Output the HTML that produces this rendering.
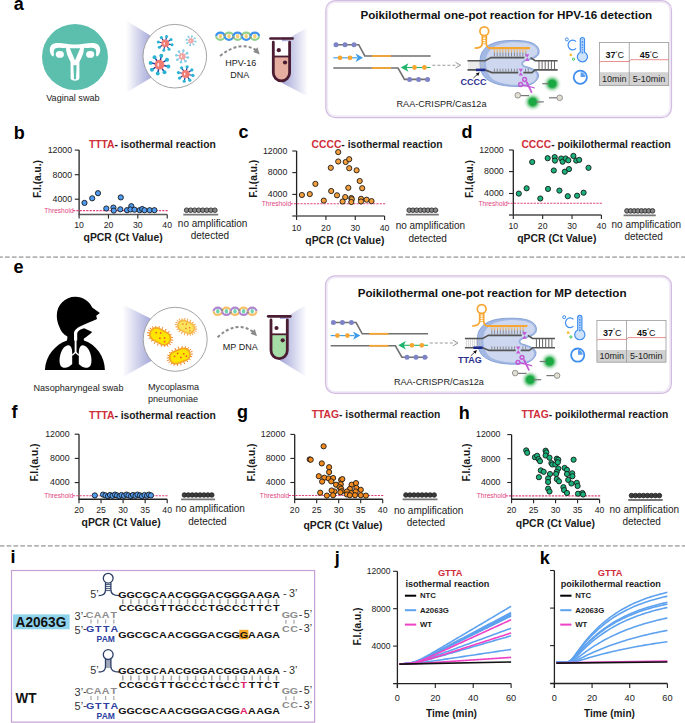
<!DOCTYPE html><html><head><meta charset="utf-8"><style>html,body{margin:0;padding:0;background:#fff;font-family:"Liberation Sans",sans-serif;}svg{display:block;}</style></head><body>
<svg width="685" height="723" viewBox="0 0 685 723" font-family="'Liberation Sans', sans-serif">
<defs>
<linearGradient id="coneL" x1="0" y1="0" x2="1" y2="0"><stop offset="0" stop-color="#ffffff"/><stop offset="1" stop-color="#a3a6d8"/></linearGradient>
<linearGradient id="coneR" x1="0" y1="0" x2="1" y2="0"><stop offset="0" stop-color="#a3a6d8"/><stop offset="1" stop-color="#ffffff"/></linearGradient>
<radialGradient id="glow"><stop offset="0" stop-color="#1aa843"/><stop offset="0.36" stop-color="#1aa843"/><stop offset="0.48" stop-color="#45b862" stop-opacity="0.8"/><stop offset="0.72" stop-color="#9bd8aa" stop-opacity="0.35"/><stop offset="1" stop-color="#ffffff" stop-opacity="0"/></radialGradient>
</defs>
<line x1="0" y1="257.1" x2="685" y2="257.1" stroke="#b4b4b4" stroke-width="1.6" stroke-dasharray="4.7 2.2" stroke-dashoffset="1.9"/>
<line x1="0" y1="545.9" x2="685" y2="545.9" stroke="#b4b4b4" stroke-width="1.6" stroke-dasharray="4.7 2.19" stroke-dashoffset="0.3"/>
<text x="13.80" y="9.60" font-size="18" font-weight="bold" fill="#000" text-anchor="start" >a</text>
<text x="13.80" y="138.60" font-size="18" font-weight="bold" fill="#000" text-anchor="start" >b</text>
<text x="238.50" y="138.30" font-size="18" font-weight="bold" fill="#000" text-anchor="start" >c</text>
<text x="461.60" y="138.30" font-size="18" font-weight="bold" fill="#000" text-anchor="start" >d</text>
<text x="13.60" y="273.30" font-size="18" font-weight="bold" fill="#000" text-anchor="start" >e</text>
<text x="11.50" y="418.40" font-size="18" font-weight="bold" fill="#000" text-anchor="start" >f</text>
<text x="237.00" y="418.00" font-size="18" font-weight="bold" fill="#000" text-anchor="start" >g</text>
<text x="458.80" y="418.60" font-size="18" font-weight="bold" fill="#000" text-anchor="start" >h</text>
<text x="10.40" y="563.10" font-size="18" font-weight="bold" fill="#000" text-anchor="start" >i</text>
<text x="334.80" y="564.10" font-size="18" font-weight="bold" fill="#000" text-anchor="start" >j</text>
<text x="539.80" y="563.90" font-size="18" font-weight="bold" fill="#000" text-anchor="start" >k</text>
<line x1="79.1" y1="150.1" x2="79.1" y2="214.6" stroke="#222" stroke-width="1.3"/>
<line x1="78.44999999999999" y1="214.6" x2="167.2" y2="214.6" stroke="#5a5a5a" stroke-width="1.5"/>
<line x1="74.8" y1="150.1" x2="79.1" y2="150.1" stroke="#222" stroke-width="1.1"/>
<text x="72.10" y="152.90" font-size="8.8" fill="#222" text-anchor="end" >12000</text>
<line x1="74.8" y1="174.7" x2="79.1" y2="174.7" stroke="#222" stroke-width="1.1"/>
<text x="72.10" y="177.50" font-size="8.8" fill="#222" text-anchor="end" >8000</text>
<line x1="74.8" y1="199.2" x2="79.1" y2="199.2" stroke="#222" stroke-width="1.1"/>
<text x="72.10" y="202.00" font-size="8.8" fill="#222" text-anchor="end" >4000</text>
<line x1="79.1" y1="214.6" x2="79.1" y2="218.6" stroke="#222" stroke-width="1.1"/>
<text x="79.10" y="227.80" font-size="8.7" fill="#222" text-anchor="middle" >10</text>
<line x1="108.46666666666665" y1="214.6" x2="108.46666666666665" y2="218.6" stroke="#222" stroke-width="1.1"/>
<text x="108.47" y="227.80" font-size="8.7" fill="#222" text-anchor="middle" >20</text>
<line x1="137.83333333333331" y1="214.6" x2="137.83333333333331" y2="218.6" stroke="#222" stroke-width="1.1"/>
<text x="137.83" y="227.80" font-size="8.7" fill="#222" text-anchor="middle" >30</text>
<line x1="167.2" y1="214.6" x2="167.2" y2="218.6" stroke="#222" stroke-width="1.1"/>
<text x="167.20" y="227.80" font-size="8.7" fill="#222" text-anchor="middle" >40</text>
<line x1="73.1" y1="210.6" x2="168.2" y2="210.6" stroke="#e0457f" stroke-width="1.1" stroke-dasharray="2.2 1.1"/>
<text x="73.60" y="212.90" font-size="6.6" fill="#e0457f" text-anchor="end" >Threshold</text>
<circle cx="84.5" cy="202.9" r="2.6" fill="#4f9cf2" stroke="#1a1a1a" stroke-width="0.9"/>
<circle cx="92.2" cy="198.3" r="2.6" fill="#4f9cf2" stroke="#1a1a1a" stroke-width="0.9"/>
<circle cx="98" cy="193.2" r="2.6" fill="#4f9cf2" stroke="#1a1a1a" stroke-width="0.9"/>
<circle cx="120.8" cy="197.4" r="2.6" fill="#4f9cf2" stroke="#1a1a1a" stroke-width="0.9"/>
<circle cx="106.3" cy="208.5" r="2.6" fill="#4f9cf2" stroke="#1a1a1a" stroke-width="0.9"/>
<circle cx="113.4" cy="207.6" r="2.6" fill="#4f9cf2" stroke="#1a1a1a" stroke-width="0.9"/>
<circle cx="113.8" cy="210.6" r="2.6" fill="#4f9cf2" stroke="#1a1a1a" stroke-width="0.9"/>
<circle cx="120.3" cy="209.3" r="2.6" fill="#4f9cf2" stroke="#1a1a1a" stroke-width="0.9"/>
<circle cx="127" cy="210.2" r="2.6" fill="#4f9cf2" stroke="#1a1a1a" stroke-width="0.9"/>
<circle cx="131.3" cy="206.2" r="2.6" fill="#4f9cf2" stroke="#1a1a1a" stroke-width="0.9"/>
<circle cx="130.5" cy="209.5" r="2.6" fill="#4f9cf2" stroke="#1a1a1a" stroke-width="0.9"/>
<circle cx="134.5" cy="209.7" r="2.6" fill="#4f9cf2" stroke="#1a1a1a" stroke-width="0.9"/>
<circle cx="139.7" cy="210.2" r="2.6" fill="#4f9cf2" stroke="#1a1a1a" stroke-width="0.9"/>
<circle cx="142.2" cy="209" r="2.6" fill="#4f9cf2" stroke="#1a1a1a" stroke-width="0.9"/>
<circle cx="144.5" cy="210.2" r="2.6" fill="#4f9cf2" stroke="#1a1a1a" stroke-width="0.9"/>
<circle cx="149.7" cy="210.2" r="2.6" fill="#4f9cf2" stroke="#1a1a1a" stroke-width="0.9"/>
<circle cx="154.4" cy="210.2" r="2.6" fill="#4f9cf2" stroke="#1a1a1a" stroke-width="0.9"/>
<text x="88.9" y="147.7" font-size="10.3" font-weight="bold" fill="#1a1a1a"><tspan fill="#cf2e3a">TTTA</tspan>- isothermal reaction</text>
<text transform="translate(40.5,179) rotate(-90)" font-size="10.2" font-weight="bold" text-anchor="middle" fill="#1a1a1a">F.I.(a.u.)</text>
<text x="123.10" y="241.10" font-size="10.4" font-weight="bold" fill="#1a1a1a" text-anchor="middle" >qPCR (Ct Value)</text>
<circle cx="186.60" cy="210.2" r="2.3" fill="#888" stroke="#222" stroke-width="0.8"/>
<circle cx="190.64" cy="210.2" r="2.3" fill="#888" stroke="#222" stroke-width="0.8"/>
<circle cx="194.69" cy="210.2" r="2.3" fill="#888" stroke="#222" stroke-width="0.8"/>
<circle cx="198.73" cy="210.2" r="2.3" fill="#888" stroke="#222" stroke-width="0.8"/>
<circle cx="202.77" cy="210.2" r="2.3" fill="#888" stroke="#222" stroke-width="0.8"/>
<circle cx="206.81" cy="210.2" r="2.3" fill="#888" stroke="#222" stroke-width="0.8"/>
<circle cx="210.86" cy="210.2" r="2.3" fill="#888" stroke="#222" stroke-width="0.8"/>
<circle cx="214.90" cy="210.2" r="2.3" fill="#888" stroke="#222" stroke-width="0.8"/>
<line x1="183.3" y1="214.6" x2="218.2" y2="214.6" stroke="#777" stroke-width="1.8"/>
<text x="212.60" y="227.00" font-size="10" fill="#222" text-anchor="middle" >no amplification</text>
<text x="209.90" y="239.20" font-size="10" fill="#222" text-anchor="middle" >detected</text>
<line x1="296.6" y1="151" x2="296.6" y2="216" stroke="#222" stroke-width="1.3"/>
<line x1="292.3" y1="216" x2="384.6" y2="216" stroke="#5a5a5a" stroke-width="1.5"/>
<line x1="292.3" y1="151" x2="296.6" y2="151" stroke="#222" stroke-width="1.1"/>
<text x="287.40" y="153.80" font-size="8.8" fill="#222" text-anchor="end" >12000</text>
<line x1="292.3" y1="172.6" x2="296.6" y2="172.6" stroke="#222" stroke-width="1.1"/>
<text x="287.40" y="175.40" font-size="8.8" fill="#222" text-anchor="end" >8000</text>
<line x1="292.3" y1="194.4" x2="296.6" y2="194.4" stroke="#222" stroke-width="1.1"/>
<text x="287.40" y="197.20" font-size="8.8" fill="#222" text-anchor="end" >4000</text>
<line x1="296.6" y1="216" x2="296.6" y2="220" stroke="#222" stroke-width="1.1"/>
<text x="296.60" y="230.60" font-size="8.7" fill="#222" text-anchor="middle" >10</text>
<line x1="325.93333333333334" y1="216" x2="325.93333333333334" y2="220" stroke="#222" stroke-width="1.1"/>
<text x="325.93" y="230.60" font-size="8.7" fill="#222" text-anchor="middle" >20</text>
<line x1="355.2666666666667" y1="216" x2="355.2666666666667" y2="220" stroke="#222" stroke-width="1.1"/>
<text x="355.27" y="230.60" font-size="8.7" fill="#222" text-anchor="middle" >30</text>
<line x1="384.6" y1="216" x2="384.6" y2="220" stroke="#222" stroke-width="1.1"/>
<text x="384.60" y="230.60" font-size="8.7" fill="#222" text-anchor="middle" >40</text>
<line x1="290.6" y1="203.8" x2="385.6" y2="203.8" stroke="#e0457f" stroke-width="1.1" stroke-dasharray="2.2 1.1"/>
<text x="291.10" y="206.10" font-size="6.6" fill="#e0457f" text-anchor="end" >Threshold</text>
<circle cx="338.2" cy="152.1" r="2.6" fill="#f5a03c" stroke="#1a1a1a" stroke-width="0.9"/>
<circle cx="338.2" cy="161.5" r="2.6" fill="#f5a03c" stroke="#1a1a1a" stroke-width="0.9"/>
<circle cx="345.7" cy="162" r="2.6" fill="#f5a03c" stroke="#1a1a1a" stroke-width="0.9"/>
<circle cx="349.2" cy="159.2" r="2.6" fill="#f5a03c" stroke="#1a1a1a" stroke-width="0.9"/>
<circle cx="330.8" cy="167.8" r="2.6" fill="#f5a03c" stroke="#1a1a1a" stroke-width="0.9"/>
<circle cx="349.2" cy="168.2" r="2.6" fill="#f5a03c" stroke="#1a1a1a" stroke-width="0.9"/>
<circle cx="356.6" cy="170.3" r="2.6" fill="#f5a03c" stroke="#1a1a1a" stroke-width="0.9"/>
<circle cx="359.7" cy="181" r="2.6" fill="#f5a03c" stroke="#1a1a1a" stroke-width="0.9"/>
<circle cx="315.4" cy="183.9" r="2.6" fill="#f5a03c" stroke="#1a1a1a" stroke-width="0.9"/>
<circle cx="348.3" cy="187.8" r="2.6" fill="#f5a03c" stroke="#1a1a1a" stroke-width="0.9"/>
<circle cx="362.2" cy="188.2" r="2.6" fill="#f5a03c" stroke="#1a1a1a" stroke-width="0.9"/>
<circle cx="301.9" cy="195" r="2.6" fill="#f5a03c" stroke="#1a1a1a" stroke-width="0.9"/>
<circle cx="309.8" cy="194.1" r="2.6" fill="#f5a03c" stroke="#1a1a1a" stroke-width="0.9"/>
<circle cx="331.2" cy="191" r="2.6" fill="#f5a03c" stroke="#1a1a1a" stroke-width="0.9"/>
<circle cx="337" cy="195.3" r="2.6" fill="#f5a03c" stroke="#1a1a1a" stroke-width="0.9"/>
<circle cx="345.2" cy="197.1" r="2.6" fill="#f5a03c" stroke="#1a1a1a" stroke-width="0.9"/>
<circle cx="351.3" cy="198" r="2.6" fill="#f5a03c" stroke="#1a1a1a" stroke-width="0.9"/>
<circle cx="351.8" cy="199.2" r="2.6" fill="#f5a03c" stroke="#1a1a1a" stroke-width="0.9"/>
<circle cx="361" cy="198.8" r="2.6" fill="#f5a03c" stroke="#1a1a1a" stroke-width="0.9"/>
<circle cx="366.6" cy="199.7" r="2.6" fill="#f5a03c" stroke="#1a1a1a" stroke-width="0.9"/>
<circle cx="371.5" cy="201.1" r="2.6" fill="#f5a03c" stroke="#1a1a1a" stroke-width="0.9"/>
<circle cx="323.8" cy="200.6" r="2.6" fill="#f5a03c" stroke="#1a1a1a" stroke-width="0.9"/>
<circle cx="342.6" cy="201.5" r="2.6" fill="#f5a03c" stroke="#1a1a1a" stroke-width="0.9"/>
<circle cx="351.3" cy="202" r="2.6" fill="#f5a03c" stroke="#1a1a1a" stroke-width="0.9"/>
<circle cx="361" cy="201.5" r="2.6" fill="#f5a03c" stroke="#1a1a1a" stroke-width="0.9"/>
<text x="311.6" y="147.7" font-size="10.3" font-weight="bold" fill="#1a1a1a"><tspan fill="#cf2e3a">CCCC</tspan>- isothermal reaction</text>
<text transform="translate(256.6,178.8) rotate(-90)" font-size="10.2" font-weight="bold" text-anchor="middle" fill="#1a1a1a">F.I.(a.u.)</text>
<text x="344.90" y="243.50" font-size="10.4" font-weight="bold" fill="#1a1a1a" text-anchor="middle" >qPCR (Ct Value)</text>
<circle cx="409.20" cy="210.2" r="2.3" fill="#888" stroke="#222" stroke-width="0.8"/>
<circle cx="412.96" cy="210.2" r="2.3" fill="#888" stroke="#222" stroke-width="0.8"/>
<circle cx="416.71" cy="210.2" r="2.3" fill="#888" stroke="#222" stroke-width="0.8"/>
<circle cx="420.47" cy="210.2" r="2.3" fill="#888" stroke="#222" stroke-width="0.8"/>
<circle cx="424.23" cy="210.2" r="2.3" fill="#888" stroke="#222" stroke-width="0.8"/>
<circle cx="427.99" cy="210.2" r="2.3" fill="#888" stroke="#222" stroke-width="0.8"/>
<circle cx="431.74" cy="210.2" r="2.3" fill="#888" stroke="#222" stroke-width="0.8"/>
<circle cx="435.50" cy="210.2" r="2.3" fill="#888" stroke="#222" stroke-width="0.8"/>
<line x1="405.9" y1="214.6" x2="438.8" y2="214.6" stroke="#777" stroke-width="1.8"/>
<text x="430.40" y="229.30" font-size="10" fill="#222" text-anchor="middle" >no amplification</text>
<text x="427.70" y="241.50" font-size="10" fill="#222" text-anchor="middle" >detected</text>
<line x1="513.3" y1="150" x2="513.3" y2="215.1" stroke="#222" stroke-width="1.3"/>
<line x1="508.99999999999994" y1="215.1" x2="601.4" y2="215.1" stroke="#4a4a4a" stroke-width="1.5"/>
<line x1="508.99999999999994" y1="150" x2="513.3" y2="150" stroke="#222" stroke-width="1.1"/>
<text x="503.70" y="152.80" font-size="8.8" fill="#222" text-anchor="end" >12000</text>
<line x1="508.99999999999994" y1="171.6" x2="513.3" y2="171.6" stroke="#222" stroke-width="1.1"/>
<text x="503.70" y="174.40" font-size="8.8" fill="#222" text-anchor="end" >8000</text>
<line x1="508.99999999999994" y1="193.5" x2="513.3" y2="193.5" stroke="#222" stroke-width="1.1"/>
<text x="503.70" y="196.30" font-size="8.8" fill="#222" text-anchor="end" >4000</text>
<line x1="513.3" y1="215.1" x2="513.3" y2="219.1" stroke="#222" stroke-width="1.1"/>
<text x="513.30" y="228.90" font-size="8.7" fill="#222" text-anchor="middle" >10</text>
<line x1="542.6666666666666" y1="215.1" x2="542.6666666666666" y2="219.1" stroke="#222" stroke-width="1.1"/>
<text x="542.67" y="228.90" font-size="8.7" fill="#222" text-anchor="middle" >20</text>
<line x1="572.0333333333333" y1="215.1" x2="572.0333333333333" y2="219.1" stroke="#222" stroke-width="1.1"/>
<text x="572.03" y="228.90" font-size="8.7" fill="#222" text-anchor="middle" >30</text>
<line x1="601.4" y1="215.1" x2="601.4" y2="219.1" stroke="#222" stroke-width="1.1"/>
<text x="601.40" y="228.90" font-size="8.7" fill="#222" text-anchor="middle" >40</text>
<line x1="507.29999999999995" y1="203.2" x2="602.4" y2="203.2" stroke="#e0457f" stroke-width="1.1" stroke-dasharray="2.2 1.1"/>
<text x="507.80" y="205.50" font-size="6.6" fill="#e0457f" text-anchor="end" >Threshold</text>
<circle cx="518.8" cy="193.6" r="2.6" fill="#19b27a" stroke="#1a1a1a" stroke-width="0.9"/>
<circle cx="526.6" cy="188.3" r="2.6" fill="#19b27a" stroke="#1a1a1a" stroke-width="0.9"/>
<circle cx="532.2" cy="162" r="2.6" fill="#19b27a" stroke="#1a1a1a" stroke-width="0.9"/>
<circle cx="540.3" cy="198.5" r="2.6" fill="#19b27a" stroke="#1a1a1a" stroke-width="0.9"/>
<circle cx="547.7" cy="158.2" r="2.6" fill="#19b27a" stroke="#1a1a1a" stroke-width="0.9"/>
<circle cx="548" cy="188.9" r="2.6" fill="#19b27a" stroke="#1a1a1a" stroke-width="0.9"/>
<circle cx="554.7" cy="157.1" r="2.6" fill="#19b27a" stroke="#1a1a1a" stroke-width="0.9"/>
<circle cx="555" cy="160.6" r="2.6" fill="#19b27a" stroke="#1a1a1a" stroke-width="0.9"/>
<circle cx="553.8" cy="170.5" r="2.6" fill="#19b27a" stroke="#1a1a1a" stroke-width="0.9"/>
<circle cx="559.4" cy="190.6" r="2.6" fill="#19b27a" stroke="#1a1a1a" stroke-width="0.9"/>
<circle cx="561.2" cy="158.5" r="2.6" fill="#19b27a" stroke="#1a1a1a" stroke-width="0.9"/>
<circle cx="562.6" cy="161.7" r="2.6" fill="#19b27a" stroke="#1a1a1a" stroke-width="0.9"/>
<circle cx="565.7" cy="158.5" r="2.6" fill="#19b27a" stroke="#1a1a1a" stroke-width="0.9"/>
<circle cx="564.8" cy="171.7" r="2.6" fill="#19b27a" stroke="#1a1a1a" stroke-width="0.9"/>
<circle cx="568.3" cy="160.3" r="2.6" fill="#19b27a" stroke="#1a1a1a" stroke-width="0.9"/>
<circle cx="569" cy="169.1" r="2.6" fill="#19b27a" stroke="#1a1a1a" stroke-width="0.9"/>
<circle cx="567.8" cy="196.2" r="2.6" fill="#19b27a" stroke="#1a1a1a" stroke-width="0.9"/>
<circle cx="573.4" cy="155.9" r="2.6" fill="#19b27a" stroke="#1a1a1a" stroke-width="0.9"/>
<circle cx="576.2" cy="160.6" r="2.6" fill="#19b27a" stroke="#1a1a1a" stroke-width="0.9"/>
<circle cx="579.2" cy="159.9" r="2.6" fill="#19b27a" stroke="#1a1a1a" stroke-width="0.9"/>
<circle cx="577.1" cy="195.7" r="2.6" fill="#19b27a" stroke="#1a1a1a" stroke-width="0.9"/>
<circle cx="583.6" cy="192.7" r="2.6" fill="#19b27a" stroke="#1a1a1a" stroke-width="0.9"/>
<circle cx="588.5" cy="167.8" r="2.6" fill="#19b27a" stroke="#1a1a1a" stroke-width="0.9"/>
<text x="521.4" y="147.7" font-size="10.3" font-weight="bold" fill="#1a1a1a"><tspan fill="#cf2e3a">CCCC</tspan>- poikilothermal reaction</text>
<text transform="translate(473,179) rotate(-90)" font-size="10.2" font-weight="bold" text-anchor="middle" fill="#1a1a1a">F.I.(a.u.)</text>
<text x="556.80" y="242.10" font-size="10.4" font-weight="bold" fill="#1a1a1a" text-anchor="middle" >qPCR (Ct Value)</text>
<circle cx="626.90" cy="210.9" r="2.3" fill="#888" stroke="#222" stroke-width="0.8"/>
<circle cx="630.56" cy="210.9" r="2.3" fill="#888" stroke="#222" stroke-width="0.8"/>
<circle cx="634.21" cy="210.9" r="2.3" fill="#888" stroke="#222" stroke-width="0.8"/>
<circle cx="637.87" cy="210.9" r="2.3" fill="#888" stroke="#222" stroke-width="0.8"/>
<circle cx="641.53" cy="210.9" r="2.3" fill="#888" stroke="#222" stroke-width="0.8"/>
<circle cx="645.19" cy="210.9" r="2.3" fill="#888" stroke="#222" stroke-width="0.8"/>
<circle cx="648.84" cy="210.9" r="2.3" fill="#888" stroke="#222" stroke-width="0.8"/>
<circle cx="652.50" cy="210.9" r="2.3" fill="#888" stroke="#222" stroke-width="0.8"/>
<line x1="623.6" y1="215.3" x2="655.8" y2="215.3" stroke="#777" stroke-width="1.8"/>
<text x="646.30" y="227.60" font-size="10" fill="#222" text-anchor="middle" >no amplification</text>
<text x="643.60" y="239.80" font-size="10" fill="#222" text-anchor="middle" >detected</text>
<line x1="79" y1="434.2" x2="79" y2="499.2" stroke="#222" stroke-width="1.3"/>
<line x1="78.35" y1="499.2" x2="167.2" y2="499.2" stroke="#222" stroke-width="1.5"/>
<line x1="74.7" y1="434.2" x2="79" y2="434.2" stroke="#222" stroke-width="1.1"/>
<text x="69.60" y="437.00" font-size="8.8" fill="#222" text-anchor="end" >12000</text>
<line x1="74.7" y1="458.4" x2="79" y2="458.4" stroke="#222" stroke-width="1.1"/>
<text x="69.60" y="461.20" font-size="8.8" fill="#222" text-anchor="end" >8000</text>
<line x1="74.7" y1="482.6" x2="79" y2="482.6" stroke="#222" stroke-width="1.1"/>
<text x="69.60" y="485.40" font-size="8.8" fill="#222" text-anchor="end" >4000</text>
<line x1="79.0" y1="499.2" x2="79.0" y2="503.2" stroke="#222" stroke-width="1.1"/>
<text x="79.00" y="513.00" font-size="8.7" fill="#222" text-anchor="middle" >20</text>
<line x1="101.05" y1="499.2" x2="101.05" y2="503.2" stroke="#222" stroke-width="1.1"/>
<text x="101.05" y="513.00" font-size="8.7" fill="#222" text-anchor="middle" >25</text>
<line x1="123.1" y1="499.2" x2="123.1" y2="503.2" stroke="#222" stroke-width="1.1"/>
<text x="123.10" y="513.00" font-size="8.7" fill="#222" text-anchor="middle" >30</text>
<line x1="145.14999999999998" y1="499.2" x2="145.14999999999998" y2="503.2" stroke="#222" stroke-width="1.1"/>
<text x="145.15" y="513.00" font-size="8.7" fill="#222" text-anchor="middle" >35</text>
<line x1="167.2" y1="499.2" x2="167.2" y2="503.2" stroke="#222" stroke-width="1.1"/>
<text x="167.20" y="513.00" font-size="8.7" fill="#222" text-anchor="middle" >40</text>
<line x1="73" y1="495.8" x2="168.2" y2="495.8" stroke="#e0457f" stroke-width="1.1" stroke-dasharray="2.2 1.1"/>
<text x="73.50" y="498.10" font-size="6.6" fill="#e0457f" text-anchor="end" >Threshold</text>
<circle cx="94.8" cy="495.4" r="2.6" fill="#4f9cf2" stroke="#1a1a1a" stroke-width="0.9"/>
<circle cx="103" cy="494.59999999999997" r="2.6" fill="#4f9cf2" stroke="#1a1a1a" stroke-width="0.9"/>
<circle cx="105.5" cy="495.4" r="2.6" fill="#4f9cf2" stroke="#1a1a1a" stroke-width="0.9"/>
<circle cx="108" cy="496.2" r="2.6" fill="#4f9cf2" stroke="#1a1a1a" stroke-width="0.9"/>
<circle cx="110" cy="495.0" r="2.6" fill="#4f9cf2" stroke="#1a1a1a" stroke-width="0.9"/>
<circle cx="112.5" cy="495.79999999999995" r="2.6" fill="#4f9cf2" stroke="#1a1a1a" stroke-width="0.9"/>
<circle cx="115" cy="494.59999999999997" r="2.6" fill="#4f9cf2" stroke="#1a1a1a" stroke-width="0.9"/>
<circle cx="117" cy="495.4" r="2.6" fill="#4f9cf2" stroke="#1a1a1a" stroke-width="0.9"/>
<circle cx="119.5" cy="496.2" r="2.6" fill="#4f9cf2" stroke="#1a1a1a" stroke-width="0.9"/>
<circle cx="121.5" cy="495.0" r="2.6" fill="#4f9cf2" stroke="#1a1a1a" stroke-width="0.9"/>
<circle cx="124" cy="495.79999999999995" r="2.6" fill="#4f9cf2" stroke="#1a1a1a" stroke-width="0.9"/>
<circle cx="126.5" cy="494.59999999999997" r="2.6" fill="#4f9cf2" stroke="#1a1a1a" stroke-width="0.9"/>
<circle cx="128.5" cy="495.4" r="2.6" fill="#4f9cf2" stroke="#1a1a1a" stroke-width="0.9"/>
<circle cx="131" cy="496.2" r="2.6" fill="#4f9cf2" stroke="#1a1a1a" stroke-width="0.9"/>
<circle cx="133" cy="495.0" r="2.6" fill="#4f9cf2" stroke="#1a1a1a" stroke-width="0.9"/>
<circle cx="135.5" cy="495.79999999999995" r="2.6" fill="#4f9cf2" stroke="#1a1a1a" stroke-width="0.9"/>
<circle cx="137.5" cy="494.59999999999997" r="2.6" fill="#4f9cf2" stroke="#1a1a1a" stroke-width="0.9"/>
<circle cx="140" cy="495.4" r="2.6" fill="#4f9cf2" stroke="#1a1a1a" stroke-width="0.9"/>
<circle cx="142" cy="496.2" r="2.6" fill="#4f9cf2" stroke="#1a1a1a" stroke-width="0.9"/>
<circle cx="144.5" cy="495.0" r="2.6" fill="#4f9cf2" stroke="#1a1a1a" stroke-width="0.9"/>
<circle cx="147" cy="495.79999999999995" r="2.6" fill="#4f9cf2" stroke="#1a1a1a" stroke-width="0.9"/>
<circle cx="149" cy="494.59999999999997" r="2.6" fill="#4f9cf2" stroke="#1a1a1a" stroke-width="0.9"/>
<circle cx="151" cy="495.4" r="2.6" fill="#4f9cf2" stroke="#1a1a1a" stroke-width="0.9"/>
<text x="88.9" y="418.9" font-size="10.3" font-weight="bold" fill="#1a1a1a"><tspan fill="#cf2e3a">TTTA</tspan>- isothermal reaction</text>
<text transform="translate(38.2,462.6) rotate(-90)" font-size="10.2" font-weight="bold" text-anchor="middle" fill="#1a1a1a">F.I.(a.u.)</text>
<text x="121.10" y="526.00" font-size="10.4" font-weight="bold" fill="#1a1a1a" text-anchor="middle" >qPCR (Ct Value)</text>
<circle cx="184.40" cy="495" r="2.3" fill="#3c3c3c" stroke="#222" stroke-width="0.8"/>
<circle cx="188.31" cy="495" r="2.3" fill="#3c3c3c" stroke="#222" stroke-width="0.8"/>
<circle cx="192.23" cy="495" r="2.3" fill="#3c3c3c" stroke="#222" stroke-width="0.8"/>
<circle cx="196.14" cy="495" r="2.3" fill="#3c3c3c" stroke="#222" stroke-width="0.8"/>
<circle cx="200.06" cy="495" r="2.3" fill="#3c3c3c" stroke="#222" stroke-width="0.8"/>
<circle cx="203.97" cy="495" r="2.3" fill="#3c3c3c" stroke="#222" stroke-width="0.8"/>
<circle cx="207.89" cy="495" r="2.3" fill="#3c3c3c" stroke="#222" stroke-width="0.8"/>
<circle cx="211.80" cy="495" r="2.3" fill="#3c3c3c" stroke="#222" stroke-width="0.8"/>
<line x1="181.1" y1="499.4" x2="215.1" y2="499.4" stroke="#777" stroke-width="1.8"/>
<text x="210.20" y="512.30" font-size="10" fill="#222" text-anchor="middle" >no amplification</text>
<text x="207.50" y="524.50" font-size="10" fill="#222" text-anchor="middle" >detected</text>
<line x1="294.7" y1="434.4" x2="294.7" y2="499.2" stroke="#222" stroke-width="1.3"/>
<line x1="294.05" y1="499.2" x2="382.7" y2="499.2" stroke="#222" stroke-width="1.5"/>
<line x1="290.4" y1="434.4" x2="294.7" y2="434.4" stroke="#222" stroke-width="1.1"/>
<text x="285.30" y="437.20" font-size="8.8" fill="#222" text-anchor="end" >12000</text>
<line x1="290.4" y1="458.4" x2="294.7" y2="458.4" stroke="#222" stroke-width="1.1"/>
<text x="285.30" y="461.20" font-size="8.8" fill="#222" text-anchor="end" >8000</text>
<line x1="290.4" y1="482.5" x2="294.7" y2="482.5" stroke="#222" stroke-width="1.1"/>
<text x="285.30" y="485.30" font-size="8.8" fill="#222" text-anchor="end" >4000</text>
<line x1="294.7" y1="499.2" x2="294.7" y2="503.2" stroke="#222" stroke-width="1.1"/>
<text x="294.70" y="513.00" font-size="8.7" fill="#222" text-anchor="middle" >20</text>
<line x1="316.7" y1="499.2" x2="316.7" y2="503.2" stroke="#222" stroke-width="1.1"/>
<text x="316.70" y="513.00" font-size="8.7" fill="#222" text-anchor="middle" >25</text>
<line x1="338.7" y1="499.2" x2="338.7" y2="503.2" stroke="#222" stroke-width="1.1"/>
<text x="338.70" y="513.00" font-size="8.7" fill="#222" text-anchor="middle" >30</text>
<line x1="360.7" y1="499.2" x2="360.7" y2="503.2" stroke="#222" stroke-width="1.1"/>
<text x="360.70" y="513.00" font-size="8.7" fill="#222" text-anchor="middle" >35</text>
<line x1="382.7" y1="499.2" x2="382.7" y2="503.2" stroke="#222" stroke-width="1.1"/>
<text x="382.70" y="513.00" font-size="8.7" fill="#222" text-anchor="middle" >40</text>
<line x1="288.7" y1="495.5" x2="383.7" y2="495.5" stroke="#e0457f" stroke-width="1.1" stroke-dasharray="2.2 1.1"/>
<text x="289.20" y="497.80" font-size="6.6" fill="#e0457f" text-anchor="end" >Threshold</text>
<circle cx="323.6" cy="446.3" r="2.6" fill="#f28a1e" stroke="#1a1a1a" stroke-width="0.9"/>
<circle cx="309.7" cy="459.4" r="2.6" fill="#f28a1e" stroke="#1a1a1a" stroke-width="0.9"/>
<circle cx="310.7" cy="459.7" r="2.6" fill="#f28a1e" stroke="#1a1a1a" stroke-width="0.9"/>
<circle cx="321.8" cy="463.4" r="2.6" fill="#f28a1e" stroke="#1a1a1a" stroke-width="0.9"/>
<circle cx="329.1" cy="467.2" r="2.6" fill="#f28a1e" stroke="#1a1a1a" stroke-width="0.9"/>
<circle cx="329.1" cy="472.1" r="2.6" fill="#f28a1e" stroke="#1a1a1a" stroke-width="0.9"/>
<circle cx="318.8" cy="476.2" r="2.6" fill="#f28a1e" stroke="#1a1a1a" stroke-width="0.9"/>
<circle cx="324.3" cy="477.7" r="2.6" fill="#f28a1e" stroke="#1a1a1a" stroke-width="0.9"/>
<circle cx="322.1" cy="481.6" r="2.6" fill="#f28a1e" stroke="#1a1a1a" stroke-width="0.9"/>
<circle cx="328.7" cy="478.4" r="2.6" fill="#f28a1e" stroke="#1a1a1a" stroke-width="0.9"/>
<circle cx="333.1" cy="478" r="2.6" fill="#f28a1e" stroke="#1a1a1a" stroke-width="0.9"/>
<circle cx="331.2" cy="481.3" r="2.6" fill="#f28a1e" stroke="#1a1a1a" stroke-width="0.9"/>
<circle cx="336" cy="484.7" r="2.6" fill="#f28a1e" stroke="#1a1a1a" stroke-width="0.9"/>
<circle cx="341.1" cy="479.9" r="2.6" fill="#f28a1e" stroke="#1a1a1a" stroke-width="0.9"/>
<circle cx="342.3" cy="479.1" r="2.6" fill="#f28a1e" stroke="#1a1a1a" stroke-width="0.9"/>
<circle cx="340.8" cy="484.2" r="2.6" fill="#f28a1e" stroke="#1a1a1a" stroke-width="0.9"/>
<circle cx="339.6" cy="487.2" r="2.6" fill="#f28a1e" stroke="#1a1a1a" stroke-width="0.9"/>
<circle cx="341.1" cy="488.6" r="2.6" fill="#f28a1e" stroke="#1a1a1a" stroke-width="0.9"/>
<circle cx="341.8" cy="491.2" r="2.6" fill="#f28a1e" stroke="#1a1a1a" stroke-width="0.9"/>
<circle cx="340.4" cy="492.3" r="2.6" fill="#f28a1e" stroke="#1a1a1a" stroke-width="0.9"/>
<circle cx="334.5" cy="491.5" r="2.6" fill="#f28a1e" stroke="#1a1a1a" stroke-width="0.9"/>
<circle cx="331.6" cy="490.5" r="2.6" fill="#f28a1e" stroke="#1a1a1a" stroke-width="0.9"/>
<circle cx="333.1" cy="495.2" r="2.6" fill="#f28a1e" stroke="#1a1a1a" stroke-width="0.9"/>
<circle cx="326.9" cy="495.6" r="2.6" fill="#f28a1e" stroke="#1a1a1a" stroke-width="0.9"/>
<circle cx="320.2" cy="492.7" r="2.6" fill="#f28a1e" stroke="#1a1a1a" stroke-width="0.9"/>
<circle cx="351.6" cy="484.7" r="2.6" fill="#f28a1e" stroke="#1a1a1a" stroke-width="0.9"/>
<circle cx="356" cy="483.1" r="2.6" fill="#f28a1e" stroke="#1a1a1a" stroke-width="0.9"/>
<circle cx="349.9" cy="488.9" r="2.6" fill="#f28a1e" stroke="#1a1a1a" stroke-width="0.9"/>
<circle cx="356.4" cy="487.9" r="2.6" fill="#f28a1e" stroke="#1a1a1a" stroke-width="0.9"/>
<circle cx="360.8" cy="489.8" r="2.6" fill="#f28a1e" stroke="#1a1a1a" stroke-width="0.9"/>
<circle cx="346.9" cy="491.5" r="2.6" fill="#f28a1e" stroke="#1a1a1a" stroke-width="0.9"/>
<circle cx="351.3" cy="493" r="2.6" fill="#f28a1e" stroke="#1a1a1a" stroke-width="0.9"/>
<circle cx="355.7" cy="491.5" r="2.6" fill="#f28a1e" stroke="#1a1a1a" stroke-width="0.9"/>
<circle cx="346.9" cy="494.5" r="2.6" fill="#f28a1e" stroke="#1a1a1a" stroke-width="0.9"/>
<circle cx="349.9" cy="495.2" r="2.6" fill="#f28a1e" stroke="#1a1a1a" stroke-width="0.9"/>
<circle cx="355" cy="495.2" r="2.6" fill="#f28a1e" stroke="#1a1a1a" stroke-width="0.9"/>
<circle cx="360.8" cy="495.2" r="2.6" fill="#f28a1e" stroke="#1a1a1a" stroke-width="0.9"/>
<circle cx="365.9" cy="495.6" r="2.6" fill="#f28a1e" stroke="#1a1a1a" stroke-width="0.9"/>
<text x="311.8" y="418.2" font-size="10.3" font-weight="bold" fill="#1a1a1a"><tspan fill="#cf2e3a">TTAG</tspan>- isothermal reaction</text>
<text transform="translate(254.8,462.5) rotate(-90)" font-size="10.2" font-weight="bold" text-anchor="middle" fill="#1a1a1a">F.I.(a.u.)</text>
<text x="343.00" y="528.90" font-size="10.4" font-weight="bold" fill="#1a1a1a" text-anchor="middle" >qPCR (Ct Value)</text>
<circle cx="405.90" cy="495" r="2.3" fill="#3c3c3c" stroke="#222" stroke-width="0.8"/>
<circle cx="409.94" cy="495" r="2.3" fill="#3c3c3c" stroke="#222" stroke-width="0.8"/>
<circle cx="413.99" cy="495" r="2.3" fill="#3c3c3c" stroke="#222" stroke-width="0.8"/>
<circle cx="418.03" cy="495" r="2.3" fill="#3c3c3c" stroke="#222" stroke-width="0.8"/>
<circle cx="422.07" cy="495" r="2.3" fill="#3c3c3c" stroke="#222" stroke-width="0.8"/>
<circle cx="426.11" cy="495" r="2.3" fill="#3c3c3c" stroke="#222" stroke-width="0.8"/>
<circle cx="430.16" cy="495" r="2.3" fill="#3c3c3c" stroke="#222" stroke-width="0.8"/>
<circle cx="434.20" cy="495" r="2.3" fill="#3c3c3c" stroke="#222" stroke-width="0.8"/>
<line x1="402.6" y1="499.4" x2="437.5" y2="499.4" stroke="#777" stroke-width="1.8"/>
<text x="428.70" y="514.00" font-size="10" fill="#222" text-anchor="middle" >no amplification</text>
<text x="426.00" y="526.20" font-size="10" fill="#222" text-anchor="middle" >detected</text>
<line x1="511.6" y1="434.6" x2="511.6" y2="499.3" stroke="#222" stroke-width="1.3"/>
<line x1="510.95000000000005" y1="499.3" x2="599.6" y2="499.3" stroke="#222" stroke-width="1.5"/>
<line x1="507.3" y1="434.6" x2="511.6" y2="434.6" stroke="#222" stroke-width="1.1"/>
<text x="500.50" y="437.40" font-size="8.8" fill="#222" text-anchor="end" >12000</text>
<line x1="507.3" y1="458.7" x2="511.6" y2="458.7" stroke="#222" stroke-width="1.1"/>
<text x="500.50" y="461.50" font-size="8.8" fill="#222" text-anchor="end" >8000</text>
<line x1="507.3" y1="482.5" x2="511.6" y2="482.5" stroke="#222" stroke-width="1.1"/>
<text x="500.50" y="485.30" font-size="8.8" fill="#222" text-anchor="end" >4000</text>
<line x1="511.6" y1="499.3" x2="511.6" y2="503.3" stroke="#222" stroke-width="1.1"/>
<text x="511.60" y="513.00" font-size="8.7" fill="#222" text-anchor="middle" >20</text>
<line x1="533.6" y1="499.3" x2="533.6" y2="503.3" stroke="#222" stroke-width="1.1"/>
<text x="533.60" y="513.00" font-size="8.7" fill="#222" text-anchor="middle" >25</text>
<line x1="555.6" y1="499.3" x2="555.6" y2="503.3" stroke="#222" stroke-width="1.1"/>
<text x="555.60" y="513.00" font-size="8.7" fill="#222" text-anchor="middle" >30</text>
<line x1="577.6" y1="499.3" x2="577.6" y2="503.3" stroke="#222" stroke-width="1.1"/>
<text x="577.60" y="513.00" font-size="8.7" fill="#222" text-anchor="middle" >35</text>
<line x1="599.6" y1="499.3" x2="599.6" y2="503.3" stroke="#222" stroke-width="1.1"/>
<text x="599.60" y="513.00" font-size="8.7" fill="#222" text-anchor="middle" >40</text>
<line x1="505.6" y1="495.9" x2="600.6" y2="495.9" stroke="#e0457f" stroke-width="1.1" stroke-dasharray="2.2 1.1"/>
<text x="506.10" y="498.20" font-size="6.6" fill="#e0457f" text-anchor="end" >Threshold</text>
<circle cx="526.2" cy="450.4" r="2.6" fill="#19b27a" stroke="#1a1a1a" stroke-width="0.9"/>
<circle cx="527.2" cy="452.8" r="2.6" fill="#19b27a" stroke="#1a1a1a" stroke-width="0.9"/>
<circle cx="534.9" cy="457.2" r="2.6" fill="#19b27a" stroke="#1a1a1a" stroke-width="0.9"/>
<circle cx="537.1" cy="455.8" r="2.6" fill="#19b27a" stroke="#1a1a1a" stroke-width="0.9"/>
<circle cx="538.6" cy="459.1" r="2.6" fill="#19b27a" stroke="#1a1a1a" stroke-width="0.9"/>
<circle cx="540" cy="461.2" r="2.6" fill="#19b27a" stroke="#1a1a1a" stroke-width="0.9"/>
<circle cx="545.6" cy="450.7" r="2.6" fill="#19b27a" stroke="#1a1a1a" stroke-width="0.9"/>
<circle cx="546.3" cy="452.4" r="2.6" fill="#19b27a" stroke="#1a1a1a" stroke-width="0.9"/>
<circle cx="545.6" cy="455.5" r="2.6" fill="#19b27a" stroke="#1a1a1a" stroke-width="0.9"/>
<circle cx="549.5" cy="457.7" r="2.6" fill="#19b27a" stroke="#1a1a1a" stroke-width="0.9"/>
<circle cx="551.4" cy="463.1" r="2.6" fill="#19b27a" stroke="#1a1a1a" stroke-width="0.9"/>
<circle cx="552.4" cy="464.5" r="2.6" fill="#19b27a" stroke="#1a1a1a" stroke-width="0.9"/>
<circle cx="555.4" cy="464.5" r="2.6" fill="#19b27a" stroke="#1a1a1a" stroke-width="0.9"/>
<circle cx="556.8" cy="458.7" r="2.6" fill="#19b27a" stroke="#1a1a1a" stroke-width="0.9"/>
<circle cx="558.3" cy="459.7" r="2.6" fill="#19b27a" stroke="#1a1a1a" stroke-width="0.9"/>
<circle cx="557.8" cy="462.3" r="2.6" fill="#19b27a" stroke="#1a1a1a" stroke-width="0.9"/>
<circle cx="558.3" cy="468.5" r="2.6" fill="#19b27a" stroke="#1a1a1a" stroke-width="0.9"/>
<circle cx="556.8" cy="471.8" r="2.6" fill="#19b27a" stroke="#1a1a1a" stroke-width="0.9"/>
<circle cx="556.1" cy="474" r="2.6" fill="#19b27a" stroke="#1a1a1a" stroke-width="0.9"/>
<circle cx="540.8" cy="470.4" r="2.6" fill="#19b27a" stroke="#1a1a1a" stroke-width="0.9"/>
<circle cx="543.7" cy="471.8" r="2.6" fill="#19b27a" stroke="#1a1a1a" stroke-width="0.9"/>
<circle cx="538.9" cy="477.2" r="2.6" fill="#19b27a" stroke="#1a1a1a" stroke-width="0.9"/>
<circle cx="550" cy="474" r="2.6" fill="#19b27a" stroke="#1a1a1a" stroke-width="0.9"/>
<circle cx="548.1" cy="478.4" r="2.6" fill="#19b27a" stroke="#1a1a1a" stroke-width="0.9"/>
<circle cx="548.1" cy="482" r="2.6" fill="#19b27a" stroke="#1a1a1a" stroke-width="0.9"/>
<circle cx="556.8" cy="479.1" r="2.6" fill="#19b27a" stroke="#1a1a1a" stroke-width="0.9"/>
<circle cx="559" cy="481.3" r="2.6" fill="#19b27a" stroke="#1a1a1a" stroke-width="0.9"/>
<circle cx="548.1" cy="488.6" r="2.6" fill="#19b27a" stroke="#1a1a1a" stroke-width="0.9"/>
<circle cx="549.5" cy="491.5" r="2.6" fill="#19b27a" stroke="#1a1a1a" stroke-width="0.9"/>
<circle cx="564.6" cy="467.9" r="2.6" fill="#19b27a" stroke="#1a1a1a" stroke-width="0.9"/>
<circle cx="567" cy="469.9" r="2.6" fill="#19b27a" stroke="#1a1a1a" stroke-width="0.9"/>
<circle cx="567" cy="474" r="2.6" fill="#19b27a" stroke="#1a1a1a" stroke-width="0.9"/>
<circle cx="572.2" cy="473.3" r="2.6" fill="#19b27a" stroke="#1a1a1a" stroke-width="0.9"/>
<circle cx="572.4" cy="476.2" r="2.6" fill="#19b27a" stroke="#1a1a1a" stroke-width="0.9"/>
<circle cx="568.2" cy="479.9" r="2.6" fill="#19b27a" stroke="#1a1a1a" stroke-width="0.9"/>
<circle cx="571.4" cy="483.5" r="2.6" fill="#19b27a" stroke="#1a1a1a" stroke-width="0.9"/>
<circle cx="573.6" cy="459.7" r="2.6" fill="#19b27a" stroke="#1a1a1a" stroke-width="0.9"/>
<circle cx="576.8" cy="482.8" r="2.6" fill="#19b27a" stroke="#1a1a1a" stroke-width="0.9"/>
<circle cx="577.6" cy="486" r="2.6" fill="#19b27a" stroke="#1a1a1a" stroke-width="0.9"/>
<circle cx="563.4" cy="487.2" r="2.6" fill="#19b27a" stroke="#1a1a1a" stroke-width="0.9"/>
<circle cx="564.1" cy="490.1" r="2.6" fill="#19b27a" stroke="#1a1a1a" stroke-width="0.9"/>
<circle cx="567" cy="493" r="2.6" fill="#19b27a" stroke="#1a1a1a" stroke-width="0.9"/>
<circle cx="578" cy="493.7" r="2.6" fill="#19b27a" stroke="#1a1a1a" stroke-width="0.9"/>
<circle cx="582.4" cy="493" r="2.6" fill="#19b27a" stroke="#1a1a1a" stroke-width="0.9"/>
<circle cx="583.1" cy="494.5" r="2.6" fill="#19b27a" stroke="#1a1a1a" stroke-width="0.9"/>
<text x="521.4" y="418.2" font-size="10.3" font-weight="bold" fill="#1a1a1a"><tspan fill="#cf2e3a">TTAG</tspan>- poikilothermal reaction</text>
<text transform="translate(469.9,462.5) rotate(-90)" font-size="10.2" font-weight="bold" text-anchor="middle" fill="#1a1a1a">F.I.(a.u.)</text>
<text x="555.40" y="526.80" font-size="10.4" font-weight="bold" fill="#1a1a1a" text-anchor="middle" >qPCR (Ct Value)</text>
<circle cx="631.50" cy="495.6" r="2.3" fill="#3c3c3c" stroke="#222" stroke-width="0.8"/>
<circle cx="635.49" cy="495.6" r="2.3" fill="#3c3c3c" stroke="#222" stroke-width="0.8"/>
<circle cx="639.47" cy="495.6" r="2.3" fill="#3c3c3c" stroke="#222" stroke-width="0.8"/>
<circle cx="643.46" cy="495.6" r="2.3" fill="#3c3c3c" stroke="#222" stroke-width="0.8"/>
<circle cx="647.44" cy="495.6" r="2.3" fill="#3c3c3c" stroke="#222" stroke-width="0.8"/>
<circle cx="651.43" cy="495.6" r="2.3" fill="#3c3c3c" stroke="#222" stroke-width="0.8"/>
<circle cx="655.41" cy="495.6" r="2.3" fill="#3c3c3c" stroke="#222" stroke-width="0.8"/>
<circle cx="659.40" cy="495.6" r="2.3" fill="#3c3c3c" stroke="#222" stroke-width="0.8"/>
<line x1="628.2" y1="500.0" x2="662.7" y2="500.0" stroke="#777" stroke-width="1.8"/>
<text x="644.30" y="512.70" font-size="10" fill="#222" text-anchor="middle" >no amplification</text>
<text x="641.60" y="524.90" font-size="10" fill="#222" text-anchor="middle" >detected</text>
<circle cx="75" cy="57" r="33" fill="#5cbfae"/>
<g fill="#fff"><path d="M49.8,50.5 C49.4,45.5 53,43 58,43.1 C64,43.2 69,44.8 75,44.6 C81,44.8 86,43.2 92,43.1 C97,43 100.6,45.5 100.2,50.5 C99.9,53.8 98.3,56.2 96.6,56.6 C95.6,55 96.4,52.3 96.2,50.8 C95.9,48.4 94,47.6 91,47.7 C87.5,47.8 85.5,48.5 84,47.4 C84.2,52 82,57 79.4,62 V78.3 C79.4,81.6 70.6,81.6 70.6,78.3 V62 C68,57 65.8,52 66,47.4 C64.5,48.5 62.5,47.8 59,47.7 C56,47.6 54.1,48.4 53.8,50.8 C53.6,52.3 54.4,55 53.4,56.6 C51.7,56.2 50.1,53.8 49.8,50.5 Z"/><ellipse cx="59.8" cy="54.4" rx="4.1" ry="3.4"/><ellipse cx="90.2" cy="54.4" rx="4.1" ry="3.4"/></g>
<path d="M69.8,48.3 H80.2 L75,60.6 Z" fill="#5cbfae"/>
<path d="M73.4,65.3 H76.6 L76,79.2 H74 Z" fill="#5cbfae"/>
<path d="M56.6,51.6 A3.6,3.2 0 0 0 57,57.4" fill="none" stroke="#5cbfae" stroke-width="0.6"/><path d="M93.4,51.6 A3.6,3.2 0 0 1 93,57.4" fill="none" stroke="#5cbfae" stroke-width="0.6"/>
<text x="46.2" y="101" font-size="9.1" fill="#222">Vaginal swab</text>
<path d="M126.2,20.6 L149.996,35.212 L151.904,77.188 L126.2,92.8 Z" fill="url(#coneL)"/>
<circle cx="174.8" cy="56.2" r="31.8" fill="#fff" stroke="#9a9a9a" stroke-width="0.9"/>
<g transform="translate(165.2,43.4)"><line x1="3.35" y1="0.68" x2="6.89" y2="1.40" stroke="#23399e" stroke-width="1.14"/><circle cx="6.89" cy="1.40" r="1.52" fill="#2bb3d3"/><line x1="1.89" y1="2.85" x2="3.88" y2="5.86" stroke="#23399e" stroke-width="1.14"/><circle cx="3.88" cy="5.86" r="1.52" fill="#2bb3d3"/><line x1="-0.68" y1="3.35" x2="-1.40" y2="6.89" stroke="#23399e" stroke-width="1.14"/><circle cx="-1.40" cy="6.89" r="1.52" fill="#2bb3d3"/><line x1="-2.85" y1="1.89" x2="-5.86" y2="3.88" stroke="#23399e" stroke-width="1.14"/><circle cx="-5.86" cy="3.88" r="1.52" fill="#2bb3d3"/><line x1="-3.35" y1="-0.68" x2="-6.89" y2="-1.40" stroke="#23399e" stroke-width="1.14"/><circle cx="-6.89" cy="-1.40" r="1.52" fill="#2bb3d3"/><line x1="-1.89" y1="-2.85" x2="-3.88" y2="-5.86" stroke="#23399e" stroke-width="1.14"/><circle cx="-3.88" cy="-5.86" r="1.52" fill="#2bb3d3"/><line x1="0.68" y1="-3.35" x2="1.40" y2="-6.89" stroke="#23399e" stroke-width="1.14"/><circle cx="1.40" cy="-6.89" r="1.52" fill="#2bb3d3"/><line x1="2.85" y1="-1.89" x2="5.86" y2="-3.88" stroke="#23399e" stroke-width="1.14"/><circle cx="5.86" cy="-3.88" r="1.52" fill="#2bb3d3"/><circle r="3.8" fill="#ef7b73"/><ellipse cx="-0.95" cy="0" rx="0.68" ry="1.52" fill="#fff" opacity="0.85"/></g>
<g transform="translate(191,40.7)"><line x1="2.21" y1="0.45" x2="4.53" y2="0.92" stroke="#8fa0d8" stroke-width="0.75"/><circle cx="4.53" cy="0.92" r="1.00" fill="#7fd0e6"/><line x1="1.24" y1="1.88" x2="2.56" y2="3.85" stroke="#8fa0d8" stroke-width="0.75"/><circle cx="2.56" cy="3.85" r="1.00" fill="#7fd0e6"/><line x1="-0.45" y1="2.21" x2="-0.92" y2="4.53" stroke="#8fa0d8" stroke-width="0.75"/><circle cx="-0.92" cy="4.53" r="1.00" fill="#7fd0e6"/><line x1="-1.88" y1="1.24" x2="-3.85" y2="2.56" stroke="#8fa0d8" stroke-width="0.75"/><circle cx="-3.85" cy="2.56" r="1.00" fill="#7fd0e6"/><line x1="-2.21" y1="-0.45" x2="-4.53" y2="-0.92" stroke="#8fa0d8" stroke-width="0.75"/><circle cx="-4.53" cy="-0.92" r="1.00" fill="#7fd0e6"/><line x1="-1.24" y1="-1.88" x2="-2.56" y2="-3.85" stroke="#8fa0d8" stroke-width="0.75"/><circle cx="-2.56" cy="-3.85" r="1.00" fill="#7fd0e6"/><line x1="0.45" y1="-2.21" x2="0.92" y2="-4.53" stroke="#8fa0d8" stroke-width="0.75"/><circle cx="0.92" cy="-4.53" r="1.00" fill="#7fd0e6"/><line x1="1.88" y1="-1.24" x2="3.85" y2="-2.56" stroke="#8fa0d8" stroke-width="0.75"/><circle cx="3.85" cy="-2.56" r="1.00" fill="#7fd0e6"/><circle r="2.5" fill="#f4a3a0"/><ellipse cx="-0.62" cy="0" rx="0.45" ry="1.00" fill="#fff" opacity="0.85"/></g>
<g transform="translate(182.2,56.4)"><line x1="2.82" y1="0.57" x2="5.80" y2="1.18" stroke="#8fa0d8" stroke-width="0.96"/><circle cx="5.80" cy="1.18" r="1.28" fill="#7fd0e6"/><line x1="1.59" y1="2.40" x2="3.27" y2="4.93" stroke="#8fa0d8" stroke-width="0.96"/><circle cx="3.27" cy="4.93" r="1.28" fill="#7fd0e6"/><line x1="-0.57" y1="2.82" x2="-1.18" y2="5.80" stroke="#8fa0d8" stroke-width="0.96"/><circle cx="-1.18" cy="5.80" r="1.28" fill="#7fd0e6"/><line x1="-2.40" y1="1.59" x2="-4.93" y2="3.27" stroke="#8fa0d8" stroke-width="0.96"/><circle cx="-4.93" cy="3.27" r="1.28" fill="#7fd0e6"/><line x1="-2.82" y1="-0.57" x2="-5.80" y2="-1.18" stroke="#8fa0d8" stroke-width="0.96"/><circle cx="-5.80" cy="-1.18" r="1.28" fill="#7fd0e6"/><line x1="-1.59" y1="-2.40" x2="-3.27" y2="-4.93" stroke="#8fa0d8" stroke-width="0.96"/><circle cx="-3.27" cy="-4.93" r="1.28" fill="#7fd0e6"/><line x1="0.57" y1="-2.82" x2="1.18" y2="-5.80" stroke="#8fa0d8" stroke-width="0.96"/><circle cx="1.18" cy="-5.80" r="1.28" fill="#7fd0e6"/><line x1="2.40" y1="-1.59" x2="4.93" y2="-3.27" stroke="#8fa0d8" stroke-width="0.96"/><circle cx="4.93" cy="-3.27" r="1.28" fill="#7fd0e6"/><circle r="3.2" fill="#f4a3a0"/><ellipse cx="-0.80" cy="0" rx="0.58" ry="1.28" fill="#fff" opacity="0.85"/></g>
<g transform="translate(159.5,64.7)"><line x1="4.32" y1="0.88" x2="8.88" y2="1.80" stroke="#23399e" stroke-width="1.47"/><circle cx="8.88" cy="1.80" r="1.96" fill="#2bb3d3"/><line x1="2.44" y1="3.68" x2="5.01" y2="7.56" stroke="#23399e" stroke-width="1.47"/><circle cx="5.01" cy="7.56" r="1.96" fill="#2bb3d3"/><line x1="-0.88" y1="4.32" x2="-1.80" y2="8.88" stroke="#23399e" stroke-width="1.47"/><circle cx="-1.80" cy="8.88" r="1.96" fill="#2bb3d3"/><line x1="-3.68" y1="2.44" x2="-7.56" y2="5.01" stroke="#23399e" stroke-width="1.47"/><circle cx="-7.56" cy="5.01" r="1.96" fill="#2bb3d3"/><line x1="-4.32" y1="-0.88" x2="-8.88" y2="-1.80" stroke="#23399e" stroke-width="1.47"/><circle cx="-8.88" cy="-1.80" r="1.96" fill="#2bb3d3"/><line x1="-2.44" y1="-3.68" x2="-5.01" y2="-7.56" stroke="#23399e" stroke-width="1.47"/><circle cx="-5.01" cy="-7.56" r="1.96" fill="#2bb3d3"/><line x1="0.88" y1="-4.32" x2="1.80" y2="-8.88" stroke="#23399e" stroke-width="1.47"/><circle cx="1.80" cy="-8.88" r="1.96" fill="#2bb3d3"/><line x1="3.68" y1="-2.44" x2="7.56" y2="-5.01" stroke="#23399e" stroke-width="1.47"/><circle cx="7.56" cy="-5.01" r="1.96" fill="#2bb3d3"/><circle r="4.9" fill="#ef7b73"/><ellipse cx="-1.23" cy="0" rx="0.88" ry="1.96" fill="#fff" opacity="0.85"/></g>
<g transform="translate(185.7,74)"><line x1="3.53" y1="0.72" x2="7.25" y2="1.47" stroke="#23399e" stroke-width="1.20"/><circle cx="7.25" cy="1.47" r="1.60" fill="#2bb3d3"/><line x1="1.99" y1="3.00" x2="4.09" y2="6.17" stroke="#23399e" stroke-width="1.20"/><circle cx="4.09" cy="6.17" r="1.60" fill="#2bb3d3"/><line x1="-0.72" y1="3.53" x2="-1.47" y2="7.25" stroke="#23399e" stroke-width="1.20"/><circle cx="-1.47" cy="7.25" r="1.60" fill="#2bb3d3"/><line x1="-3.00" y1="1.99" x2="-6.17" y2="4.09" stroke="#23399e" stroke-width="1.20"/><circle cx="-6.17" cy="4.09" r="1.60" fill="#2bb3d3"/><line x1="-3.53" y1="-0.72" x2="-7.25" y2="-1.47" stroke="#23399e" stroke-width="1.20"/><circle cx="-7.25" cy="-1.47" r="1.60" fill="#2bb3d3"/><line x1="-1.99" y1="-3.00" x2="-4.09" y2="-6.17" stroke="#23399e" stroke-width="1.20"/><circle cx="-4.09" cy="-6.17" r="1.60" fill="#2bb3d3"/><line x1="0.72" y1="-3.53" x2="1.47" y2="-7.25" stroke="#23399e" stroke-width="1.20"/><circle cx="1.47" cy="-7.25" r="1.60" fill="#2bb3d3"/><line x1="3.00" y1="-1.99" x2="6.17" y2="-4.09" stroke="#23399e" stroke-width="1.20"/><circle cx="6.17" cy="-4.09" r="1.60" fill="#2bb3d3"/><circle r="4.0" fill="#ef7b73"/><ellipse cx="-1.00" cy="0" rx="0.72" ry="1.60" fill="#fff" opacity="0.85"/></g>
<path d="M216.20,36.2 A4.2,3.6 0 0 1 224.60,36.2" fill="none" stroke="#3d94ee" stroke-width="2.2"/>
<path d="M216.20,36.2 A4.2,3.6 0 0 0 224.60,36.2" fill="none" stroke="#93d08e" stroke-width="2.2"/>
<ellipse cx="220.40" cy="36.2" rx="1.7" ry="2.3" fill="#fbcf72"/>
<path d="M224.80,36.2 A4.2,3.6 0 0 1 233.20,36.2" fill="none" stroke="#93d08e" stroke-width="2.2"/>
<path d="M224.80,36.2 A4.2,3.6 0 0 0 233.20,36.2" fill="none" stroke="#3d94ee" stroke-width="2.2"/>
<ellipse cx="229.00" cy="36.2" rx="1.7" ry="2.3" fill="#fbcf72"/>
<path d="M233.40,36.2 A4.2,3.6 0 0 1 241.80,36.2" fill="none" stroke="#3d94ee" stroke-width="2.2"/>
<path d="M233.40,36.2 A4.2,3.6 0 0 0 241.80,36.2" fill="none" stroke="#93d08e" stroke-width="2.2"/>
<ellipse cx="237.60" cy="36.2" rx="1.7" ry="2.3" fill="#fbcf72"/>
<path d="M242.00,36.2 A4.2,3.6 0 0 1 250.40,36.2" fill="none" stroke="#93d08e" stroke-width="2.2"/>
<path d="M242.00,36.2 A4.2,3.6 0 0 0 250.40,36.2" fill="none" stroke="#3d94ee" stroke-width="2.2"/>
<ellipse cx="246.20" cy="36.2" rx="1.7" ry="2.3" fill="#fbcf72"/>
<path d="M250.60,36.2 A4.2,3.6 0 0 1 259.00,36.2" fill="none" stroke="#3d94ee" stroke-width="2.2"/>
<path d="M250.60,36.2 A4.2,3.6 0 0 0 259.00,36.2" fill="none" stroke="#93d08e" stroke-width="2.2"/>
<ellipse cx="254.80" cy="36.2" rx="1.7" ry="2.3" fill="#fbcf72"/>
<rect x="223.70" y="34.10" width="2" height="1.8" fill="#8a8a8a"/>
<rect x="232.30" y="36.50" width="2" height="1.8" fill="#8a8a8a"/>
<rect x="240.90" y="34.10" width="2" height="1.8" fill="#8a8a8a"/>
<rect x="249.50" y="36.50" width="2" height="1.8" fill="#8a8a8a"/>
<path d="M220,56 Q240,40 255.7,50" fill="none" stroke="#8a8a8a" stroke-width="2" stroke-dasharray="3 2.2"/>
<path d="M259.7,54.5 L253.2,52 L257.5,47.2 Z" fill="#8a8a8a"/>
<text x="240.8" y="65.7" font-size="9" text-anchor="middle" fill="#222">HPV-16</text>
<text x="239.7" y="77.5" font-size="9" text-anchor="middle" fill="#222">DNA</text>
<path d="M290,37.5 L308,27 L308,96.5 L282,83 L282,37.5 Z" fill="url(#coneR)"/>
<line x1="270.5" y1="38.5" x2="292.59999999999997" y2="38.5" stroke="#4b1d33" stroke-width="2.7" stroke-linecap="round"/>
<rect x="273.3" y="41.2" width="16.3" height="16" fill="#fff"/>
<path d="M273.3,56.5 H289.59999999999997 V72.7 A8.15,8.15 0 0 1 273.3,72.7 Z" fill="#e6aea0"/>
<path d="M273.3,42.2 V72.7 A8.15,8.15 0 0 0 289.59999999999997,72.7 V42.2" fill="none" stroke="#4b1d33" stroke-width="2.8" stroke-linecap="round"/>
<line x1="273.4" y1="56.5" x2="289.5" y2="56.5" stroke="#4b1d33" stroke-width="1.8"/>
<circle cx="278.8" cy="50.2" r="2.1" fill="#4b1d33"/>
<circle cx="285.0" cy="62.5" r="2.1" fill="#4b1d33"/>
<rect x="327.1" y="1.9" width="343.09999999999997" height="114.4" rx="8.5" fill="none" stroke="#f1ebf6" stroke-width="2"/>
<rect x="325.8" y="0.6" width="345.7" height="117.0" rx="9.5" fill="none" stroke="#d3bce2" stroke-width="1.2"/>
<path d="M336,44.7 H358.7 L364.8,56 H430.7" fill="none" stroke="#707070" stroke-width="1.6"/>
<line x1="371.8" y1="56" x2="391" y2="56" stroke="#f6a631" stroke-width="1.8"/>
<circle cx="336" cy="44.7" r="2.5" fill="#7e83c5"/>
<circle cx="345" cy="44.7" r="2.5" fill="#7e83c5"/>
<circle cx="354" cy="44.7" r="2.5" fill="#7e83c5"/>
<line x1="333.3" y1="57.8" x2="357" y2="57.8" stroke="#3d9be9" stroke-width="1.1"/>
<path d="M363,57.8 L355.6,53.6 L357.6,57.8 L355.6,62 Z" fill="#3d9be9"/>
<circle cx="340" cy="57.8" r="2.4" fill="#f6a631"/>
<circle cx="350" cy="57.8" r="2.4" fill="#f6a631"/>
<path d="M333.3,68 H398 L404.5,79.4 H430" fill="none" stroke="#707070" stroke-width="1.6"/>
<line x1="371.8" y1="68" x2="391" y2="68" stroke="#f6a631" stroke-width="1.8"/>
<circle cx="409.6" cy="79.4" r="2.5" fill="#7e83c5"/>
<circle cx="418.6" cy="79.4" r="2.5" fill="#7e83c5"/>
<circle cx="427.5" cy="79.4" r="2.5" fill="#7e83c5"/>
<line x1="404" y1="67.5" x2="430.5" y2="67.5" stroke="#1db36b" stroke-width="1.1"/>
<path d="M400.8,67.5 L408.4,63.3 L406.4,67.5 L408.4,71.7 Z" fill="#1db36b"/>
<circle cx="414.5" cy="67.5" r="2.4" fill="#f6a631"/>
<circle cx="424.4" cy="67.5" r="2.4" fill="#f6a631"/>
<line x1="432.4" y1="65.2" x2="458" y2="65.2" stroke="#999" stroke-width="1.1" stroke-dasharray="3 2"/>
<path d="M455.5,62.3 L460.6,65.2 L455.5,68.1" fill="none" stroke="#999" stroke-width="1"/>
<path d="M480,63.4 C480,57 481,53.5 483,51 C485.5,47 488,45.5 491,44.2 C497,41.2 505,40.4 514,40.4 C521,40.5 527,41 531,42.5 C535.5,44.2 539,47 539.1,51.5 C539.2,55 537,57 532,59 C528,60.2 524.8,60.5 523.2,62.3 C521.8,64 523,65.5 525.5,66.4 C530,67.5 535.5,69.5 537.8,72.6 C539.4,75 538.8,79 534,82.8 C530,85.5 524,86.4 517,86.4 C509,86.4 500,85.5 494,83 C488,80.5 484.5,78 482.5,74 C480.8,70.5 480,67 480,63.4 Z" fill="#a3b8e3" stroke="#86a2d8" stroke-width="1"/>
<path d="M486,62 C486,55 489,49.5 494.5,46.5 C500,43.5 508,42.2 515,42.2 C522,42.3 527.5,43 531,44.5 C535,46 537.4,48.5 537.4,51.5 C537.4,54.5 535,56 531.5,57.5 C527.5,58.8 523.5,59.5 521.8,61.8 C520.2,64 521.5,66.5 524.8,67.8 C529.5,69.3 534.5,71 536,73.5 C537.5,76.5 536,80 532.5,82.2 C528.5,84.4 522,84.8 516,84.7 C507,84.5 499,83 494,80 C489,77 486,70 486,62 Z" fill="#cdd8f0"/>
<line x1="469.0" y1="61" x2="469.0" y2="69.6" stroke="#c4c4c4" stroke-width="0.7"/>
<line x1="471.0" y1="61" x2="471.0" y2="69.6" stroke="#c4c4c4" stroke-width="0.7"/>
<line x1="473.0" y1="61" x2="473.0" y2="69.6" stroke="#c4c4c4" stroke-width="0.7"/>
<line x1="475.0" y1="61" x2="475.0" y2="69.6" stroke="#c4c4c4" stroke-width="0.7"/>
<line x1="477.0" y1="61" x2="477.0" y2="69.6" stroke="#c4c4c4" stroke-width="0.7"/>
<line x1="479.0" y1="61" x2="479.0" y2="69.6" stroke="#c4c4c4" stroke-width="0.7"/>
<line x1="481.0" y1="61" x2="481.0" y2="69.6" stroke="#c4c4c4" stroke-width="0.7"/>
<line x1="483.0" y1="61" x2="483.0" y2="69.6" stroke="#c4c4c4" stroke-width="0.7"/>
<path d="M467.5,60.7 H485.2 L491,57.6 H524.4" fill="none" stroke="#555" stroke-width="1.6"/>
<path d="M530.5,57.6 L535.1,60.7 H557.6" fill="none" stroke="#555" stroke-width="1.6"/>
<path d="M467.5,69.9 H485.2 L491.8,72.6 H518.3" fill="none" stroke="#555" stroke-width="1.6"/>
<path d="M523.3,72.6 H532 L535.1,69.9 H557.6" fill="none" stroke="#555" stroke-width="1.6"/>
<line x1="539.0" y1="61" x2="539.0" y2="69.6" stroke="#666" stroke-width="1"/>
<line x1="542.1" y1="61" x2="542.1" y2="69.6" stroke="#666" stroke-width="1"/>
<line x1="545.2" y1="61" x2="545.2" y2="69.6" stroke="#666" stroke-width="1"/>
<line x1="548.3" y1="61" x2="548.3" y2="69.6" stroke="#666" stroke-width="1"/>
<line x1="551.4" y1="61" x2="551.4" y2="69.6" stroke="#666" stroke-width="1"/>
<line x1="554.5" y1="61" x2="554.5" y2="69.6" stroke="#666" stroke-width="1"/>
<line x1="489.5" y1="48.2" x2="530" y2="48.2" stroke="#f6a631" stroke-width="2.2"/>
<line x1="494.4" y1="49.5" x2="494.4" y2="52.5" stroke="#f6a631" stroke-width="0.8"/>
<line x1="494.4" y1="52.5" x2="494.4" y2="56.6" stroke="#777" stroke-width="0.8"/>
<line x1="497.2" y1="49.5" x2="497.2" y2="52.5" stroke="#f6a631" stroke-width="0.8"/>
<line x1="497.2" y1="52.5" x2="497.2" y2="56.6" stroke="#777" stroke-width="0.8"/>
<line x1="500.1" y1="49.5" x2="500.1" y2="52.5" stroke="#f6a631" stroke-width="0.8"/>
<line x1="500.1" y1="52.5" x2="500.1" y2="56.6" stroke="#777" stroke-width="0.8"/>
<line x1="502.9" y1="49.5" x2="502.9" y2="52.5" stroke="#f6a631" stroke-width="0.8"/>
<line x1="502.9" y1="52.5" x2="502.9" y2="56.6" stroke="#777" stroke-width="0.8"/>
<line x1="505.8" y1="49.5" x2="505.8" y2="52.5" stroke="#f6a631" stroke-width="0.8"/>
<line x1="505.8" y1="52.5" x2="505.8" y2="56.6" stroke="#777" stroke-width="0.8"/>
<line x1="508.6" y1="49.5" x2="508.6" y2="52.5" stroke="#f6a631" stroke-width="0.8"/>
<line x1="508.6" y1="52.5" x2="508.6" y2="56.6" stroke="#777" stroke-width="0.8"/>
<line x1="511.5" y1="49.5" x2="511.5" y2="52.5" stroke="#f6a631" stroke-width="0.8"/>
<line x1="511.5" y1="52.5" x2="511.5" y2="56.6" stroke="#777" stroke-width="0.8"/>
<line x1="514.4" y1="49.5" x2="514.4" y2="52.5" stroke="#f6a631" stroke-width="0.8"/>
<line x1="514.4" y1="52.5" x2="514.4" y2="56.6" stroke="#777" stroke-width="0.8"/>
<line x1="517.2" y1="49.5" x2="517.2" y2="52.5" stroke="#f6a631" stroke-width="0.8"/>
<line x1="517.2" y1="52.5" x2="517.2" y2="56.6" stroke="#777" stroke-width="0.8"/>
<line x1="520.0" y1="49.5" x2="520.0" y2="52.5" stroke="#f6a631" stroke-width="0.8"/>
<line x1="520.0" y1="52.5" x2="520.0" y2="56.6" stroke="#777" stroke-width="0.8"/>
<line x1="522.9" y1="49.5" x2="522.9" y2="52.5" stroke="#f6a631" stroke-width="0.8"/>
<line x1="522.9" y1="52.5" x2="522.9" y2="56.6" stroke="#777" stroke-width="0.8"/>
<line x1="525.8" y1="49.5" x2="525.8" y2="52.5" stroke="#f6a631" stroke-width="0.8"/>
<line x1="525.8" y1="52.5" x2="525.8" y2="56.6" stroke="#777" stroke-width="0.8"/>
<line x1="494.4" y1="68.6" x2="494.4" y2="71.8" stroke="#777" stroke-width="0.8"/>
<line x1="497.2" y1="68.6" x2="497.2" y2="71.8" stroke="#777" stroke-width="0.8"/>
<line x1="500.1" y1="68.6" x2="500.1" y2="71.8" stroke="#777" stroke-width="0.8"/>
<line x1="502.9" y1="68.6" x2="502.9" y2="71.8" stroke="#777" stroke-width="0.8"/>
<line x1="505.8" y1="68.6" x2="505.8" y2="71.8" stroke="#777" stroke-width="0.8"/>
<line x1="508.6" y1="68.6" x2="508.6" y2="71.8" stroke="#777" stroke-width="0.8"/>
<line x1="511.5" y1="68.6" x2="511.5" y2="71.8" stroke="#777" stroke-width="0.8"/>
<line x1="514.4" y1="68.6" x2="514.4" y2="71.8" stroke="#777" stroke-width="0.8"/>
<line x1="517.2" y1="68.6" x2="517.2" y2="71.8" stroke="#777" stroke-width="0.8"/>
<line x1="525.5" y1="68.6" x2="525.5" y2="71.8" stroke="#777" stroke-width="0.8"/>
<line x1="528.3" y1="68.6" x2="528.3" y2="71.8" stroke="#777" stroke-width="0.8"/>
<path d="M474.7,48.2 C479,48.2 482.3,46.5 482.3,43 V35.5 M486.3,35.5 V43 C486.3,46.5 488,48.2 490.5,48.2" fill="none" stroke="#f6a631" stroke-width="1.7"/>
<circle cx="484.3" cy="31.2" r="4.4" fill="none" stroke="#f6a631" stroke-width="1.7"/>
<line x1="482.3" y1="37.2" x2="486.3" y2="37.2" stroke="#f6a631" stroke-width="0.8"/>
<line x1="482.3" y1="39.4" x2="486.3" y2="39.4" stroke="#f6a631" stroke-width="0.8"/>
<line x1="482.3" y1="41.6" x2="486.3" y2="41.6" stroke="#f6a631" stroke-width="0.8"/>
<line x1="482.3" y1="43.8" x2="486.3" y2="43.8" stroke="#f6a631" stroke-width="0.8"/>
<line x1="476" y1="69.9" x2="485.2" y2="69.9" stroke="#1b2a8c" stroke-width="2.6"/>
<path d="M525.0,54.2 H529.4000000000001 L527.2,57.6 L529.4000000000001,61.0 H525.0 L527.2,57.6 Z" fill="#c458d6"/>
<path d="M518.5999999999999,68.8 H523.0 L520.8,72.2 L523.0,75.60000000000001 H518.5999999999999 L520.8,72.2 Z" fill="#c458d6"/>
<g fill="#c458d6"><path d="M525.6,82.2 L527.4,81.2 L532.6,92.6 L531,93 Z"/><path d="M522.4,84.2 L523.2,86 L535.2,88.6 L534.4,87.2 Z"/></g>
<g stroke="#c458d6" fill="none" stroke-width="1.5"><circle cx="524.6" cy="79.5" r="1.9"/><circle cx="520.6" cy="84.5" r="1.9"/></g>
<text x="460.6" y="85.3" font-size="9" font-weight="bold" fill="#2b2f8f">CCCC</text>
<line x1="473.4" y1="78" x2="478.3" y2="73.5" stroke="#111" stroke-width="0.8"/>
<path d="M479.6,72.3 L475.8,73.6 L478.2,76 Z" fill="#111"/>
<text x="396.5" y="106.9" font-size="9.1" fill="#222">RAA-CRISPR/Cas12a</text>
<circle cx="552.2" cy="83.7" r="10" fill="url(#glow)"/>
<circle cx="532.8" cy="101.9" r="10" fill="url(#glow)"/>
<line x1="542.3" y1="83.7" x2="549" y2="83.7" stroke="#777" stroke-width="1.2"/>
<line x1="535.7" y1="101.9" x2="543.8" y2="101.9" stroke="#777" stroke-width="1.2"/>
<line x1="520.3" y1="95.6" x2="529" y2="95.6" stroke="#777" stroke-width="1.2"/>
<line x1="549" y1="97.8" x2="557.1" y2="97.8" stroke="#777" stroke-width="1.2"/>
<circle cx="517.8" cy="95.3" r="2.8" fill="#e2dfd2" stroke="#8a8a8a" stroke-width="0.9"/>
<circle cx="559.7" cy="97.8" r="2.8" fill="#e2dfd2" stroke="#8a8a8a" stroke-width="0.9"/>
<circle cx="566.8" cy="39.4" r="1.5" fill="none" stroke="#3f8ef0" stroke-width="1"/>
<path d="M576,41.6 A4.6,4.9 0 1 0 576,48.4" fill="none" stroke="#3f8ef0" stroke-width="1.2"/>
<path d="M580.3,52.2 V39.6 A2.1,2.1 0 0 1 584.5,39.6 V52.2 A5.1,5.1 0 1 1 580.3,52.2 Z" fill="#cfe2fb" stroke="#3f8ef0" stroke-width="1.2"/>
<rect x="581.6" y="39.5" width="1.6" height="14" fill="#3f8ef0"/>
<line x1="581.6" y1="40.6" x2="583.2" y2="40.6" stroke="#fff" stroke-width="0.8"/>
<line x1="581.6" y1="43.4" x2="583.2" y2="43.4" stroke="#fff" stroke-width="0.8"/>
<line x1="581.6" y1="46.2" x2="583.2" y2="46.2" stroke="#fff" stroke-width="0.8"/>
<line x1="581.6" y1="48.8" x2="583.2" y2="48.8" stroke="#fff" stroke-width="0.8"/>
<line x1="581.6" y1="51" x2="583.2" y2="51" stroke="#fff" stroke-width="0.8"/>
<circle cx="570.8" cy="54.9" r="1.4" fill="#f8c03a"/>
<circle cx="573.5" cy="59.2" r="1.1" fill="none" stroke="#22c040" stroke-width="0.9"/>
<circle cx="580.3" cy="77.3" r="6.6" fill="#fff" stroke="#3f8ef0" stroke-width="1.8"/>
<path d="M580.6,77 V72.3 A4.7,4.7 0 0 1 585.3,77 Z" fill="#5a9cf0"/>
<text x="360.4" y="19.2" font-size="11.65" font-weight="bold" fill="#111">Poikilothermal one-pot reaction for HPV-16 detection</text>
<rect x="599.4" y="72.2" width="69.30000000000007" height="13.399999999999991" fill="#d2d2d2"/>
<rect x="599.4" y="42.5" width="69.30000000000007" height="43.099999999999994" fill="none" stroke="#999" stroke-width="0.8"/>
<line x1="629.3" y1="42.5" x2="629.3" y2="85.6" stroke="#999" stroke-width="0.8"/>
<path d="M599.4,62.5 L600.9,61.5 H629.3 L630.8,59.7 H668.7" fill="none" stroke="#e06060" stroke-width="0.7"/>
<text x="614.8" y="57.9" font-size="9" text-anchor="middle" fill="#111"><tspan font-weight="bold">37</tspan><tspan font-size="5" dy="-3.4">°</tspan><tspan dy="3.4">C</tspan></text>
<text x="649.0" y="57.9" font-size="9" text-anchor="middle" fill="#111"><tspan font-weight="bold">45</tspan><tspan font-size="5" dy="-3.4">°</tspan><tspan dy="3.4">C</tspan></text>
<text x="614.3" y="82.3" font-size="9" text-anchor="middle" fill="#222">10min</text>
<text x="649.0" y="82.3" font-size="9" text-anchor="middle" fill="#222">5-10min</text>
<g fill="#000"><path d="M75.4,296.8 C83,296.8 89,301 92.2,307.4 L99.9,312.9 L96.2,315.8 L97,319.1 L95.5,319.8 C90,322 84,324.5 79.5,326.8 C75.5,329 74,331 74,334 V342 H66.5 C67.3,339.5 67.4,338 67.4,336.6 C63.5,334.5 60.5,331 59.4,327.1 C57.5,322.5 56.8,319.5 56.8,315.5 C56.8,305 65,296.8 75.4,296.8 Z"/><path d="M77.2,342 V334 C77.2,331 80,329.3 84.2,328.2 L92.2,331.9 C90,334 87,336.5 84,338.6 C83.6,339.5 83.8,340.5 84.4,342 Z"/><path d="M44.9,369.9 C45.5,356 55,344.5 67.1,340.5 H84 C96,344.5 104.5,356 104.9,369.9 Z"/></g>
<g fill="#fff"><path d="M68.3,345.3 C65,345.3 62,349 60.5,354 C59.2,358.5 59.2,363 60.5,365.5 C61.8,367.8 64.5,368.2 66.5,367.6 C69,366.8 71,365.5 72.2,364 V353.5 C72.2,350 71.5,345.3 68.3,345.3 Z"/><path d="M82.7,345.3 C86,345.3 89,349 90.5,354 C91.8,358.5 91.8,363 90.5,365.5 C89.2,367.8 86.5,368.2 84.5,367.6 C82,366.8 80,365.5 78.8,364 V353.5 C78.8,350 79.5,345.3 82.7,345.3 Z"/></g>
<path d="M75.6,353 V334.5 C75.6,331.5 77.2,329.6 79.5,328.3" fill="none" stroke="#fff" stroke-width="1.9"/>
<path d="M72.2,355.2 L75.6,352.2 L78.8,355.2" fill="none" stroke="#fff" stroke-width="1.3"/>
<text x="33.5" y="391" font-size="9.1" fill="#222">Nasopharyngeal swab</text>
<path d="M122.6,304.5 L150.23999999999998,318.18 L152.16,360.42 L122.6,377.2 Z" fill="url(#coneL)"/>
<circle cx="175.2" cy="339.3" r="32" fill="#fff" stroke="#9a9a9a" stroke-width="0.9"/>
<g transform="translate(160.2,336.4) rotate(28)"><line x1="11.60" y1="0.00" x2="13.90" y2="0.00" stroke="#f07f22" stroke-width="0.9"/><line x1="11.13" y1="2.03" x2="13.34" y2="2.68" stroke="#f07f22" stroke-width="0.9"/><line x1="9.76" y1="3.89" x2="11.69" y2="5.14" stroke="#f07f22" stroke-width="0.9"/><line x1="7.60" y1="5.44" x2="9.10" y2="7.18" stroke="#f07f22" stroke-width="0.9"/><line x1="4.82" y1="6.55" x2="5.77" y2="8.64" stroke="#f07f22" stroke-width="0.9"/><line x1="1.65" y1="7.13" x2="1.98" y2="9.40" stroke="#f07f22" stroke-width="0.9"/><line x1="-1.65" y1="7.13" x2="-1.98" y2="9.40" stroke="#f07f22" stroke-width="0.9"/><line x1="-4.82" y1="6.55" x2="-5.77" y2="8.64" stroke="#f07f22" stroke-width="0.9"/><line x1="-7.60" y1="5.44" x2="-9.10" y2="7.18" stroke="#f07f22" stroke-width="0.9"/><line x1="-9.76" y1="3.89" x2="-11.69" y2="5.14" stroke="#f07f22" stroke-width="0.9"/><line x1="-11.13" y1="2.03" x2="-13.34" y2="2.68" stroke="#f07f22" stroke-width="0.9"/><line x1="-11.60" y1="0.00" x2="-13.90" y2="0.00" stroke="#f07f22" stroke-width="0.9"/><line x1="-11.13" y1="-2.03" x2="-13.34" y2="-2.68" stroke="#f07f22" stroke-width="0.9"/><line x1="-9.76" y1="-3.89" x2="-11.69" y2="-5.14" stroke="#f07f22" stroke-width="0.9"/><line x1="-7.60" y1="-5.44" x2="-9.10" y2="-7.18" stroke="#f07f22" stroke-width="0.9"/><line x1="-4.82" y1="-6.55" x2="-5.77" y2="-8.64" stroke="#f07f22" stroke-width="0.9"/><line x1="-1.65" y1="-7.13" x2="-1.98" y2="-9.40" stroke="#f07f22" stroke-width="0.9"/><line x1="1.65" y1="-7.13" x2="1.98" y2="-9.40" stroke="#f07f22" stroke-width="0.9"/><line x1="4.82" y1="-6.55" x2="5.77" y2="-8.64" stroke="#f07f22" stroke-width="0.9"/><line x1="7.60" y1="-5.44" x2="9.10" y2="-7.18" stroke="#f07f22" stroke-width="0.9"/><line x1="9.76" y1="-3.89" x2="11.69" y2="-5.14" stroke="#f07f22" stroke-width="0.9"/><line x1="11.13" y1="-2.03" x2="13.34" y2="-2.68" stroke="#f07f22" stroke-width="0.9"/><rect x="-11.6" y="-7.2" width="23.2" height="14.4" rx="6.84" fill="#f3a623"/><rect x="-9.9" y="-5.6" width="19.8" height="11.2" rx="5.4" fill="#ffe600"/><circle cx="-5.22" cy="-1.44" r="0.9" fill="#ef5a2a"/><circle cx="0.58" cy="1.80" r="0.9" fill="#ef5a2a"/><circle cx="4.64" cy="-0.72" r="0.9" fill="#ef5a2a"/><circle cx="-1.16" cy="-3.24" r="0.9" fill="#ef5a2a"/><circle cx="6.38" cy="2.52" r="0.9" fill="#ef5a2a"/></g>
<g transform="translate(186.1,326.9) rotate(24)"><line x1="9.20" y1="0.00" x2="11.50" y2="0.00" stroke="#f39a3a" stroke-width="0.9"/><line x1="8.83" y1="1.69" x2="11.03" y2="2.34" stroke="#f39a3a" stroke-width="0.9"/><line x1="7.74" y1="3.24" x2="9.67" y2="4.49" stroke="#f39a3a" stroke-width="0.9"/><line x1="6.02" y1="4.53" x2="7.53" y2="6.27" stroke="#f39a3a" stroke-width="0.9"/><line x1="3.82" y1="5.46" x2="4.78" y2="7.55" stroke="#f39a3a" stroke-width="0.9"/><line x1="1.31" y1="5.94" x2="1.64" y2="8.22" stroke="#f39a3a" stroke-width="0.9"/><line x1="-1.31" y1="5.94" x2="-1.64" y2="8.22" stroke="#f39a3a" stroke-width="0.9"/><line x1="-3.82" y1="5.46" x2="-4.78" y2="7.55" stroke="#f39a3a" stroke-width="0.9"/><line x1="-6.02" y1="4.53" x2="-7.53" y2="6.27" stroke="#f39a3a" stroke-width="0.9"/><line x1="-7.74" y1="3.24" x2="-9.67" y2="4.49" stroke="#f39a3a" stroke-width="0.9"/><line x1="-8.83" y1="1.69" x2="-11.03" y2="2.34" stroke="#f39a3a" stroke-width="0.9"/><line x1="-9.20" y1="0.00" x2="-11.50" y2="0.00" stroke="#f39a3a" stroke-width="0.9"/><line x1="-8.83" y1="-1.69" x2="-11.03" y2="-2.34" stroke="#f39a3a" stroke-width="0.9"/><line x1="-7.74" y1="-3.24" x2="-9.67" y2="-4.49" stroke="#f39a3a" stroke-width="0.9"/><line x1="-6.02" y1="-4.53" x2="-7.53" y2="-6.27" stroke="#f39a3a" stroke-width="0.9"/><line x1="-3.82" y1="-5.46" x2="-4.78" y2="-7.55" stroke="#f39a3a" stroke-width="0.9"/><line x1="-1.31" y1="-5.94" x2="-1.64" y2="-8.22" stroke="#f39a3a" stroke-width="0.9"/><line x1="1.31" y1="-5.94" x2="1.64" y2="-8.22" stroke="#f39a3a" stroke-width="0.9"/><line x1="3.82" y1="-5.46" x2="4.78" y2="-7.55" stroke="#f39a3a" stroke-width="0.9"/><line x1="6.02" y1="-4.53" x2="7.53" y2="-6.27" stroke="#f39a3a" stroke-width="0.9"/><line x1="7.74" y1="-3.24" x2="9.67" y2="-4.49" stroke="#f39a3a" stroke-width="0.9"/><line x1="8.83" y1="-1.69" x2="11.03" y2="-2.34" stroke="#f39a3a" stroke-width="0.9"/><rect x="-9.2" y="-6.0" width="18.4" height="12.0" rx="5.699999999999999" fill="#f6b94a"/><rect x="-7.499999999999999" y="-4.4" width="14.999999999999998" height="8.8" rx="4.5" fill="#fbe35a"/><circle cx="-4.14" cy="-1.20" r="0.7" fill="#ef5a2a"/><circle cx="0.46" cy="1.50" r="0.7" fill="#ef5a2a"/><circle cx="3.68" cy="-0.60" r="0.7" fill="#ef5a2a"/><circle cx="-0.92" cy="-2.70" r="0.7" fill="#ef5a2a"/><circle cx="5.06" cy="2.10" r="0.7" fill="#ef5a2a"/></g>
<g transform="translate(179.8,356) rotate(-20)"><line x1="11.20" y1="0.00" x2="13.50" y2="0.00" stroke="#f07f22" stroke-width="0.9"/><line x1="10.75" y1="1.97" x2="12.95" y2="2.62" stroke="#f07f22" stroke-width="0.9"/><line x1="9.42" y1="3.78" x2="11.36" y2="5.03" stroke="#f07f22" stroke-width="0.9"/><line x1="7.33" y1="5.29" x2="8.84" y2="7.03" stroke="#f07f22" stroke-width="0.9"/><line x1="4.65" y1="6.37" x2="5.61" y2="8.46" stroke="#f07f22" stroke-width="0.9"/><line x1="1.59" y1="6.93" x2="1.92" y2="9.21" stroke="#f07f22" stroke-width="0.9"/><line x1="-1.59" y1="6.93" x2="-1.92" y2="9.21" stroke="#f07f22" stroke-width="0.9"/><line x1="-4.65" y1="6.37" x2="-5.61" y2="8.46" stroke="#f07f22" stroke-width="0.9"/><line x1="-7.33" y1="5.29" x2="-8.84" y2="7.03" stroke="#f07f22" stroke-width="0.9"/><line x1="-9.42" y1="3.78" x2="-11.36" y2="5.03" stroke="#f07f22" stroke-width="0.9"/><line x1="-10.75" y1="1.97" x2="-12.95" y2="2.62" stroke="#f07f22" stroke-width="0.9"/><line x1="-11.20" y1="0.00" x2="-13.50" y2="0.00" stroke="#f07f22" stroke-width="0.9"/><line x1="-10.75" y1="-1.97" x2="-12.95" y2="-2.62" stroke="#f07f22" stroke-width="0.9"/><line x1="-9.42" y1="-3.78" x2="-11.36" y2="-5.03" stroke="#f07f22" stroke-width="0.9"/><line x1="-7.33" y1="-5.29" x2="-8.84" y2="-7.03" stroke="#f07f22" stroke-width="0.9"/><line x1="-4.65" y1="-6.37" x2="-5.61" y2="-8.46" stroke="#f07f22" stroke-width="0.9"/><line x1="-1.59" y1="-6.93" x2="-1.92" y2="-9.21" stroke="#f07f22" stroke-width="0.9"/><line x1="1.59" y1="-6.93" x2="1.92" y2="-9.21" stroke="#f07f22" stroke-width="0.9"/><line x1="4.65" y1="-6.37" x2="5.61" y2="-8.46" stroke="#f07f22" stroke-width="0.9"/><line x1="7.33" y1="-5.29" x2="8.84" y2="-7.03" stroke="#f07f22" stroke-width="0.9"/><line x1="9.42" y1="-3.78" x2="11.36" y2="-5.03" stroke="#f07f22" stroke-width="0.9"/><line x1="10.75" y1="-1.97" x2="12.95" y2="-2.62" stroke="#f07f22" stroke-width="0.9"/><rect x="-11.2" y="-7.0" width="22.4" height="14.0" rx="6.6499999999999995" fill="#f3a623"/><rect x="-9.5" y="-5.4" width="19.0" height="10.8" rx="5.25" fill="#ffe600"/><circle cx="-5.04" cy="-1.40" r="0.9" fill="#ef5a2a"/><circle cx="0.56" cy="1.75" r="0.9" fill="#ef5a2a"/><circle cx="4.48" cy="-0.70" r="0.9" fill="#ef5a2a"/><circle cx="-1.12" cy="-3.15" r="0.9" fill="#ef5a2a"/><circle cx="6.16" cy="2.45" r="0.9" fill="#ef5a2a"/></g>
<text x="148" y="390.4" font-size="9.1" fill="#222">Mycoplasma</text>
<text x="148" y="402" font-size="9.1" fill="#222">pneumoniae</text>
<path d="M213.60,311.3 A4.2,3.6 0 0 1 222.00,311.3" fill="none" stroke="#ae86cf" stroke-width="2.2"/>
<path d="M213.60,311.3 A4.2,3.6 0 0 0 222.00,311.3" fill="none" stroke="#f7bf6a" stroke-width="2.2"/>
<ellipse cx="217.80" cy="311.3" rx="1.7" ry="2.3" fill="#6fd4ad"/>
<path d="M222.20,311.3 A4.2,3.6 0 0 1 230.60,311.3" fill="none" stroke="#f7bf6a" stroke-width="2.2"/>
<path d="M222.20,311.3 A4.2,3.6 0 0 0 230.60,311.3" fill="none" stroke="#ae86cf" stroke-width="2.2"/>
<ellipse cx="226.40" cy="311.3" rx="1.7" ry="2.3" fill="#6fd4ad"/>
<path d="M230.80,311.3 A4.2,3.6 0 0 1 239.20,311.3" fill="none" stroke="#ae86cf" stroke-width="2.2"/>
<path d="M230.80,311.3 A4.2,3.6 0 0 0 239.20,311.3" fill="none" stroke="#f7bf6a" stroke-width="2.2"/>
<ellipse cx="235.00" cy="311.3" rx="1.7" ry="2.3" fill="#6fd4ad"/>
<path d="M239.40,311.3 A4.2,3.6 0 0 1 247.80,311.3" fill="none" stroke="#f7bf6a" stroke-width="2.2"/>
<path d="M239.40,311.3 A4.2,3.6 0 0 0 247.80,311.3" fill="none" stroke="#ae86cf" stroke-width="2.2"/>
<ellipse cx="243.60" cy="311.3" rx="1.7" ry="2.3" fill="#6fd4ad"/>
<path d="M248.00,311.3 A4.2,3.6 0 0 1 256.40,311.3" fill="none" stroke="#ae86cf" stroke-width="2.2"/>
<path d="M248.00,311.3 A4.2,3.6 0 0 0 256.40,311.3" fill="none" stroke="#f7bf6a" stroke-width="2.2"/>
<ellipse cx="252.20" cy="311.3" rx="1.7" ry="2.3" fill="#6fd4ad"/>
<rect x="221.10" y="309.20" width="2" height="1.8" fill="#8a8a8a"/>
<rect x="229.70" y="311.60" width="2" height="1.8" fill="#8a8a8a"/>
<rect x="238.30" y="309.20" width="2" height="1.8" fill="#8a8a8a"/>
<rect x="246.90" y="311.60" width="2" height="1.8" fill="#8a8a8a"/>
<path d="M217.5,337.3 Q236,320 253,331.7" fill="none" stroke="#8a8a8a" stroke-width="2" stroke-dasharray="3 2.2"/>
<path d="M257,336.2 L250.5,333.7 L254.8,328.9 Z" fill="#8a8a8a"/>
<text x="222.8" y="350.4" font-size="9" fill="#222">MP DNA</text>
<path d="M288,316 L306.5,304.5 L306.5,377 L280,360.5 L280,316 Z" fill="url(#coneR)"/>
<line x1="268.2" y1="316.3" x2="290.29999999999995" y2="316.3" stroke="#4b1d33" stroke-width="2.7" stroke-linecap="round"/>
<rect x="271.0" y="319" width="16.3" height="16" fill="#fff"/>
<path d="M271.0,334.3 H287.29999999999995 V350.5 A8.15,8.15 0 0 1 271.0,350.5 Z" fill="#a6dca6"/>
<path d="M271.0,320 V350.5 A8.15,8.15 0 0 0 287.29999999999995,350.5 V320" fill="none" stroke="#4b1d33" stroke-width="2.8" stroke-linecap="round"/>
<line x1="271.09999999999997" y1="334.3" x2="287.2" y2="334.3" stroke="#4b1d33" stroke-width="1.8"/>
<circle cx="276.5" cy="328" r="2.1" fill="#4b1d33"/>
<circle cx="282.7" cy="340.3" r="2.1" fill="#4b1d33"/>
<rect x="326.8" y="277.2" width="343.29999999999995" height="114.80000000000004" rx="8.5" fill="none" stroke="#f1ebf6" stroke-width="2"/>
<rect x="325.5" y="275.9" width="345.9" height="117.40000000000003" rx="9.5" fill="none" stroke="#d3bce2" stroke-width="1.2"/>
<g transform="translate(-2.6,277.8)">
<path d="M336,44.7 H358.7 L364.8,56 H430.7" fill="none" stroke="#707070" stroke-width="1.6"/>
<line x1="371.8" y1="56" x2="391" y2="56" stroke="#f6a631" stroke-width="1.8"/>
<circle cx="336" cy="44.7" r="2.5" fill="#7e83c5"/>
<circle cx="345" cy="44.7" r="2.5" fill="#7e83c5"/>
<circle cx="354" cy="44.7" r="2.5" fill="#7e83c5"/>
<line x1="333.3" y1="57.8" x2="357" y2="57.8" stroke="#3d9be9" stroke-width="1.1"/>
<path d="M363,57.8 L355.6,53.6 L357.6,57.8 L355.6,62 Z" fill="#3d9be9"/>
<circle cx="340" cy="57.8" r="2.4" fill="#f6a631"/>
<circle cx="350" cy="57.8" r="2.4" fill="#f6a631"/>
<path d="M333.3,68 H398 L404.5,79.4 H430" fill="none" stroke="#707070" stroke-width="1.6"/>
<line x1="371.8" y1="68" x2="391" y2="68" stroke="#f6a631" stroke-width="1.8"/>
<circle cx="409.6" cy="79.4" r="2.5" fill="#7e83c5"/>
<circle cx="418.6" cy="79.4" r="2.5" fill="#7e83c5"/>
<circle cx="427.5" cy="79.4" r="2.5" fill="#7e83c5"/>
<line x1="404" y1="67.5" x2="430.5" y2="67.5" stroke="#1db36b" stroke-width="1.1"/>
<path d="M400.8,67.5 L408.4,63.3 L406.4,67.5 L408.4,71.7 Z" fill="#1db36b"/>
<circle cx="414.5" cy="67.5" r="2.4" fill="#f6a631"/>
<circle cx="424.4" cy="67.5" r="2.4" fill="#f6a631"/>
<line x1="432.4" y1="65.2" x2="458" y2="65.2" stroke="#999" stroke-width="1.1" stroke-dasharray="3 2"/>
<path d="M455.5,62.3 L460.6,65.2 L455.5,68.1" fill="none" stroke="#999" stroke-width="1"/>
<path d="M480,63.4 C480,57 481,53.5 483,51 C485.5,47 488,45.5 491,44.2 C497,41.2 505,40.4 514,40.4 C521,40.5 527,41 531,42.5 C535.5,44.2 539,47 539.1,51.5 C539.2,55 537,57 532,59 C528,60.2 524.8,60.5 523.2,62.3 C521.8,64 523,65.5 525.5,66.4 C530,67.5 535.5,69.5 537.8,72.6 C539.4,75 538.8,79 534,82.8 C530,85.5 524,86.4 517,86.4 C509,86.4 500,85.5 494,83 C488,80.5 484.5,78 482.5,74 C480.8,70.5 480,67 480,63.4 Z" fill="#a3b8e3" stroke="#86a2d8" stroke-width="1"/>
<path d="M486,62 C486,55 489,49.5 494.5,46.5 C500,43.5 508,42.2 515,42.2 C522,42.3 527.5,43 531,44.5 C535,46 537.4,48.5 537.4,51.5 C537.4,54.5 535,56 531.5,57.5 C527.5,58.8 523.5,59.5 521.8,61.8 C520.2,64 521.5,66.5 524.8,67.8 C529.5,69.3 534.5,71 536,73.5 C537.5,76.5 536,80 532.5,82.2 C528.5,84.4 522,84.8 516,84.7 C507,84.5 499,83 494,80 C489,77 486,70 486,62 Z" fill="#cdd8f0"/>
<line x1="469.0" y1="61" x2="469.0" y2="69.6" stroke="#c4c4c4" stroke-width="0.7"/>
<line x1="471.0" y1="61" x2="471.0" y2="69.6" stroke="#c4c4c4" stroke-width="0.7"/>
<line x1="473.0" y1="61" x2="473.0" y2="69.6" stroke="#c4c4c4" stroke-width="0.7"/>
<line x1="475.0" y1="61" x2="475.0" y2="69.6" stroke="#c4c4c4" stroke-width="0.7"/>
<line x1="477.0" y1="61" x2="477.0" y2="69.6" stroke="#c4c4c4" stroke-width="0.7"/>
<line x1="479.0" y1="61" x2="479.0" y2="69.6" stroke="#c4c4c4" stroke-width="0.7"/>
<line x1="481.0" y1="61" x2="481.0" y2="69.6" stroke="#c4c4c4" stroke-width="0.7"/>
<line x1="483.0" y1="61" x2="483.0" y2="69.6" stroke="#c4c4c4" stroke-width="0.7"/>
<path d="M467.5,60.7 H485.2 L491,57.6 H524.4" fill="none" stroke="#555" stroke-width="1.6"/>
<path d="M530.5,57.6 L535.1,60.7 H557.6" fill="none" stroke="#555" stroke-width="1.6"/>
<path d="M467.5,69.9 H485.2 L491.8,72.6 H518.3" fill="none" stroke="#555" stroke-width="1.6"/>
<path d="M523.3,72.6 H532 L535.1,69.9 H557.6" fill="none" stroke="#555" stroke-width="1.6"/>
<line x1="539.0" y1="61" x2="539.0" y2="69.6" stroke="#666" stroke-width="1"/>
<line x1="542.1" y1="61" x2="542.1" y2="69.6" stroke="#666" stroke-width="1"/>
<line x1="545.2" y1="61" x2="545.2" y2="69.6" stroke="#666" stroke-width="1"/>
<line x1="548.3" y1="61" x2="548.3" y2="69.6" stroke="#666" stroke-width="1"/>
<line x1="551.4" y1="61" x2="551.4" y2="69.6" stroke="#666" stroke-width="1"/>
<line x1="554.5" y1="61" x2="554.5" y2="69.6" stroke="#666" stroke-width="1"/>
<line x1="489.5" y1="48.2" x2="530" y2="48.2" stroke="#f6a631" stroke-width="2.2"/>
<line x1="494.4" y1="49.5" x2="494.4" y2="52.5" stroke="#f6a631" stroke-width="0.8"/>
<line x1="494.4" y1="52.5" x2="494.4" y2="56.6" stroke="#777" stroke-width="0.8"/>
<line x1="497.2" y1="49.5" x2="497.2" y2="52.5" stroke="#f6a631" stroke-width="0.8"/>
<line x1="497.2" y1="52.5" x2="497.2" y2="56.6" stroke="#777" stroke-width="0.8"/>
<line x1="500.1" y1="49.5" x2="500.1" y2="52.5" stroke="#f6a631" stroke-width="0.8"/>
<line x1="500.1" y1="52.5" x2="500.1" y2="56.6" stroke="#777" stroke-width="0.8"/>
<line x1="502.9" y1="49.5" x2="502.9" y2="52.5" stroke="#f6a631" stroke-width="0.8"/>
<line x1="502.9" y1="52.5" x2="502.9" y2="56.6" stroke="#777" stroke-width="0.8"/>
<line x1="505.8" y1="49.5" x2="505.8" y2="52.5" stroke="#f6a631" stroke-width="0.8"/>
<line x1="505.8" y1="52.5" x2="505.8" y2="56.6" stroke="#777" stroke-width="0.8"/>
<line x1="508.6" y1="49.5" x2="508.6" y2="52.5" stroke="#f6a631" stroke-width="0.8"/>
<line x1="508.6" y1="52.5" x2="508.6" y2="56.6" stroke="#777" stroke-width="0.8"/>
<line x1="511.5" y1="49.5" x2="511.5" y2="52.5" stroke="#f6a631" stroke-width="0.8"/>
<line x1="511.5" y1="52.5" x2="511.5" y2="56.6" stroke="#777" stroke-width="0.8"/>
<line x1="514.4" y1="49.5" x2="514.4" y2="52.5" stroke="#f6a631" stroke-width="0.8"/>
<line x1="514.4" y1="52.5" x2="514.4" y2="56.6" stroke="#777" stroke-width="0.8"/>
<line x1="517.2" y1="49.5" x2="517.2" y2="52.5" stroke="#f6a631" stroke-width="0.8"/>
<line x1="517.2" y1="52.5" x2="517.2" y2="56.6" stroke="#777" stroke-width="0.8"/>
<line x1="520.0" y1="49.5" x2="520.0" y2="52.5" stroke="#f6a631" stroke-width="0.8"/>
<line x1="520.0" y1="52.5" x2="520.0" y2="56.6" stroke="#777" stroke-width="0.8"/>
<line x1="522.9" y1="49.5" x2="522.9" y2="52.5" stroke="#f6a631" stroke-width="0.8"/>
<line x1="522.9" y1="52.5" x2="522.9" y2="56.6" stroke="#777" stroke-width="0.8"/>
<line x1="525.8" y1="49.5" x2="525.8" y2="52.5" stroke="#f6a631" stroke-width="0.8"/>
<line x1="525.8" y1="52.5" x2="525.8" y2="56.6" stroke="#777" stroke-width="0.8"/>
<line x1="494.4" y1="68.6" x2="494.4" y2="71.8" stroke="#777" stroke-width="0.8"/>
<line x1="497.2" y1="68.6" x2="497.2" y2="71.8" stroke="#777" stroke-width="0.8"/>
<line x1="500.1" y1="68.6" x2="500.1" y2="71.8" stroke="#777" stroke-width="0.8"/>
<line x1="502.9" y1="68.6" x2="502.9" y2="71.8" stroke="#777" stroke-width="0.8"/>
<line x1="505.8" y1="68.6" x2="505.8" y2="71.8" stroke="#777" stroke-width="0.8"/>
<line x1="508.6" y1="68.6" x2="508.6" y2="71.8" stroke="#777" stroke-width="0.8"/>
<line x1="511.5" y1="68.6" x2="511.5" y2="71.8" stroke="#777" stroke-width="0.8"/>
<line x1="514.4" y1="68.6" x2="514.4" y2="71.8" stroke="#777" stroke-width="0.8"/>
<line x1="517.2" y1="68.6" x2="517.2" y2="71.8" stroke="#777" stroke-width="0.8"/>
<line x1="525.5" y1="68.6" x2="525.5" y2="71.8" stroke="#777" stroke-width="0.8"/>
<line x1="528.3" y1="68.6" x2="528.3" y2="71.8" stroke="#777" stroke-width="0.8"/>
<path d="M474.7,48.2 C479,48.2 482.3,46.5 482.3,43 V35.5 M486.3,35.5 V43 C486.3,46.5 488,48.2 490.5,48.2" fill="none" stroke="#f6a631" stroke-width="1.7"/>
<circle cx="484.3" cy="31.2" r="4.4" fill="none" stroke="#f6a631" stroke-width="1.7"/>
<line x1="482.3" y1="37.2" x2="486.3" y2="37.2" stroke="#f6a631" stroke-width="0.8"/>
<line x1="482.3" y1="39.4" x2="486.3" y2="39.4" stroke="#f6a631" stroke-width="0.8"/>
<line x1="482.3" y1="41.6" x2="486.3" y2="41.6" stroke="#f6a631" stroke-width="0.8"/>
<line x1="482.3" y1="43.8" x2="486.3" y2="43.8" stroke="#f6a631" stroke-width="0.8"/>
<line x1="476" y1="69.9" x2="485.2" y2="69.9" stroke="#1b2a8c" stroke-width="2.6"/>
<path d="M525.0,54.2 H529.4000000000001 L527.2,57.6 L529.4000000000001,61.0 H525.0 L527.2,57.6 Z" fill="#c458d6"/>
<path d="M518.5999999999999,68.8 H523.0 L520.8,72.2 L523.0,75.60000000000001 H518.5999999999999 L520.8,72.2 Z" fill="#c458d6"/>
<g fill="#c458d6"><path d="M525.6,82.2 L527.4,81.2 L532.6,92.6 L531,93 Z"/><path d="M522.4,84.2 L523.2,86 L535.2,88.6 L534.4,87.2 Z"/></g>
<g stroke="#c458d6" fill="none" stroke-width="1.5"><circle cx="524.6" cy="79.5" r="1.9"/><circle cx="520.6" cy="84.5" r="1.9"/></g>
<text x="460.6" y="85.3" font-size="9" font-weight="bold" fill="#2b2f8f">TTAG</text>
<line x1="473.4" y1="78" x2="478.3" y2="73.5" stroke="#111" stroke-width="0.8"/>
<path d="M479.6,72.3 L475.8,73.6 L478.2,76 Z" fill="#111"/>
<text x="396.5" y="106.9" font-size="9.1" fill="#222">RAA-CRISPR/Cas12a</text>
<circle cx="552.2" cy="83.7" r="10" fill="url(#glow)"/>
<circle cx="532.8" cy="101.9" r="10" fill="url(#glow)"/>
<line x1="542.3" y1="83.7" x2="549" y2="83.7" stroke="#777" stroke-width="1.2"/>
<line x1="535.7" y1="101.9" x2="543.8" y2="101.9" stroke="#777" stroke-width="1.2"/>
<line x1="520.3" y1="95.6" x2="529" y2="95.6" stroke="#777" stroke-width="1.2"/>
<line x1="549" y1="97.8" x2="557.1" y2="97.8" stroke="#777" stroke-width="1.2"/>
<circle cx="517.8" cy="95.3" r="2.8" fill="#e2dfd2" stroke="#8a8a8a" stroke-width="0.9"/>
<circle cx="559.7" cy="97.8" r="2.8" fill="#e2dfd2" stroke="#8a8a8a" stroke-width="0.9"/>
<circle cx="566.8" cy="39.4" r="1.5" fill="none" stroke="#3f8ef0" stroke-width="1"/>
<path d="M576,41.6 A4.6,4.9 0 1 0 576,48.4" fill="none" stroke="#3f8ef0" stroke-width="1.2"/>
<path d="M580.3,52.2 V39.6 A2.1,2.1 0 0 1 584.5,39.6 V52.2 A5.1,5.1 0 1 1 580.3,52.2 Z" fill="#cfe2fb" stroke="#3f8ef0" stroke-width="1.2"/>
<rect x="581.6" y="39.5" width="1.6" height="14" fill="#3f8ef0"/>
<line x1="581.6" y1="40.6" x2="583.2" y2="40.6" stroke="#fff" stroke-width="0.8"/>
<line x1="581.6" y1="43.4" x2="583.2" y2="43.4" stroke="#fff" stroke-width="0.8"/>
<line x1="581.6" y1="46.2" x2="583.2" y2="46.2" stroke="#fff" stroke-width="0.8"/>
<line x1="581.6" y1="48.8" x2="583.2" y2="48.8" stroke="#fff" stroke-width="0.8"/>
<line x1="581.6" y1="51" x2="583.2" y2="51" stroke="#fff" stroke-width="0.8"/>
<circle cx="570.8" cy="54.9" r="1.4" fill="#f8c03a"/>
<circle cx="573.5" cy="59.2" r="1.1" fill="none" stroke="#22c040" stroke-width="0.9"/>
<circle cx="580.3" cy="77.3" r="6.6" fill="#fff" stroke="#3f8ef0" stroke-width="1.8"/>
<path d="M580.6,77 V72.3 A4.7,4.7 0 0 1 585.3,77 Z" fill="#5a9cf0"/>
<text x="360.3" y="19.2" font-size="11.65" font-weight="bold" fill="#111">Poikilothermal one-pot reaction for MP detection</text>
</g>
<rect x="596.9" y="350" width="69.10000000000002" height="12.199999999999989" fill="#d2d2d2"/>
<rect x="596.9" y="320.4" width="69.10000000000002" height="41.80000000000001" fill="none" stroke="#999" stroke-width="0.8"/>
<line x1="626.5" y1="320.4" x2="626.5" y2="362.2" stroke="#999" stroke-width="0.8"/>
<path d="M596.9,340.4 L598.4,339.4 H626.5 L628.0,337.59999999999997 H666" fill="none" stroke="#e06060" stroke-width="0.7"/>
<text x="612.2" y="335.8" font-size="9" text-anchor="middle" fill="#111"><tspan font-weight="bold">37</tspan><tspan font-size="5" dy="-3.4">°</tspan><tspan dy="3.4">C</tspan></text>
<text x="646.2" y="335.8" font-size="9" text-anchor="middle" fill="#111"><tspan font-weight="bold">45</tspan><tspan font-size="5" dy="-3.4">°</tspan><tspan dy="3.4">C</tspan></text>
<text x="611.7" y="358.9" font-size="9" text-anchor="middle" fill="#222">10min</text>
<text x="646.2" y="358.9" font-size="9" text-anchor="middle" fill="#222">5-10min</text>
<rect x="11.5" y="570.5" width="303.1" height="151.6" fill="none" stroke="#c3a0d7" stroke-width="1.2"/>
<rect x="13.1" y="614.4" width="56.5" height="14.9" fill="#8fd3ec"/>
<text transform="translate(15.6,626.8) scale(1,1.11)" font-size="13.6" font-weight="bold" fill="#111">A2063G</text>
<circle cx="108.2" cy="578.2" r="4.9" fill="none" stroke="#2c3e66" stroke-width="1.3"/>
<path d="M98.6,595.6 C103.5,595.6 105.5,593.5 105.5,590 V582.6 M110.9,582.6 V590 C110.9,593.5 113.5,595.6 119.2,595.6" fill="none" stroke="#2c3e66" stroke-width="1.3"/>
<line x1="105.5" y1="584.6" x2="110.9" y2="584.6" stroke="#2c3e66" stroke-width="0.9"/>
<line x1="105.5" y1="586.6" x2="110.9" y2="586.6" stroke="#2c3e66" stroke-width="0.9"/>
<line x1="105.5" y1="588.6" x2="110.9" y2="588.6" stroke="#2c3e66" stroke-width="0.9"/>
<line x1="105.5" y1="590.6" x2="110.9" y2="590.6" stroke="#2c3e66" stroke-width="0.9"/>
<text x="90.2" y="597.8" font-size="10.8" fill="#333">5’</text>
<text transform="scale(1.09,1)" x="112.39 119.81 127.23 134.65 142.07 149.50 156.92 164.34 171.76 179.18 186.61 194.03 201.45 208.87 216.29 223.72 231.14 238.56 245.98 253.40" y="598.00" font-size="9.8" font-weight="bold" fill="#111" text-anchor="middle">GGCGCAACGGGACGGGAAGA</text>
<text x="283" y="597.3" font-size="10.8" fill="#333">-<tspan dx="2.3">3’</tspan></text>
<line x1="122.80" y1="599.2" x2="122.80" y2="604.2" stroke="#a3a3a3" stroke-width="1.5"/>
<line x1="130.89" y1="599.2" x2="130.89" y2="604.2" stroke="#a3a3a3" stroke-width="1.5"/>
<line x1="138.98" y1="599.2" x2="138.98" y2="604.2" stroke="#a3a3a3" stroke-width="1.5"/>
<line x1="147.07" y1="599.2" x2="147.07" y2="604.2" stroke="#a3a3a3" stroke-width="1.5"/>
<line x1="155.16" y1="599.2" x2="155.16" y2="604.2" stroke="#a3a3a3" stroke-width="1.5"/>
<line x1="163.25" y1="599.2" x2="163.25" y2="604.2" stroke="#a3a3a3" stroke-width="1.5"/>
<line x1="171.34" y1="599.2" x2="171.34" y2="604.2" stroke="#a3a3a3" stroke-width="1.5"/>
<line x1="179.43" y1="599.2" x2="179.43" y2="604.2" stroke="#a3a3a3" stroke-width="1.5"/>
<line x1="187.52" y1="599.2" x2="187.52" y2="604.2" stroke="#a3a3a3" stroke-width="1.5"/>
<line x1="195.61" y1="599.2" x2="195.61" y2="604.2" stroke="#a3a3a3" stroke-width="1.5"/>
<line x1="203.70" y1="599.2" x2="203.70" y2="604.2" stroke="#a3a3a3" stroke-width="1.5"/>
<line x1="211.79" y1="599.2" x2="211.79" y2="604.2" stroke="#a3a3a3" stroke-width="1.5"/>
<line x1="219.88" y1="599.2" x2="219.88" y2="604.2" stroke="#a3a3a3" stroke-width="1.5"/>
<line x1="227.97" y1="599.2" x2="227.97" y2="604.2" stroke="#a3a3a3" stroke-width="1.5"/>
<line x1="236.06" y1="599.2" x2="236.06" y2="604.2" stroke="#a3a3a3" stroke-width="1.5"/>
<line x1="244.15" y1="599.2" x2="244.15" y2="604.2" stroke="#a3a3a3" stroke-width="1.5"/>
<line x1="252.24" y1="599.2" x2="252.24" y2="604.2" stroke="#a3a3a3" stroke-width="1.5"/>
<line x1="260.33" y1="599.2" x2="260.33" y2="604.2" stroke="#a3a3a3" stroke-width="1.5"/>
<line x1="268.42" y1="599.2" x2="268.42" y2="604.2" stroke="#a3a3a3" stroke-width="1.5"/>
<line x1="276.51" y1="599.2" x2="276.51" y2="604.2" stroke="#a3a3a3" stroke-width="1.5"/>
<text transform="scale(1.09,1)" x="112.39 119.81 127.23 134.65 142.07 149.50 156.92 164.34 171.76 179.18 186.61 194.03 201.45 208.87 216.29 223.72 231.14 238.56 245.98 253.40" y="611.40" font-size="9.8" font-weight="bold" fill="#111" text-anchor="middle">CCGCGTTGCCCTGCCCTTCT</text>
<text x="74.6" y="619.9" font-size="10.9" fill="#333">3’<tspan dy="-1.4">-</tspan></text>
<text x="74.6" y="633.5" font-size="10.9" fill="#333">5’<tspan dy="-1.2">-</tspan></text>
<text transform="scale(1.09,1)" x="82.11 89.53 96.95 104.38" y="618.00" font-size="9.8" font-weight="bold" fill="#8c8c8c" text-anchor="middle">CAAT</text>
<text transform="scale(1.09,1)" x="82.75 90.17 97.60 105.02" y="632.40" font-size="9.8" font-weight="bold" fill="#2e3fa0" text-anchor="middle">GTTA</text>
<line x1="91.00" y1="619.6" x2="91.00" y2="623.6" stroke="#a6a6a6" stroke-width="1.2"/>
<line x1="97.80" y1="619.6" x2="97.80" y2="623.6" stroke="#a6a6a6" stroke-width="1.2"/>
<line x1="105.60" y1="619.6" x2="105.60" y2="623.6" stroke="#a6a6a6" stroke-width="1.2"/>
<line x1="113.80" y1="619.6" x2="113.80" y2="623.6" stroke="#a6a6a6" stroke-width="1.2"/>
<text x="96.6" y="642.3" font-size="8.5" font-weight="bold" fill="#2e3fa0">PAM</text>
<rect x="239.25" y="629.8" width="9.2" height="9.5" fill="#f5a623"/>
<text transform="scale(1.09,1)" x="112.39 119.81 127.23 134.65 142.07 149.50 156.92 164.34 171.76 179.18 186.61 194.03 201.45 208.87 216.29 223.72 231.14 238.56 245.98 253.40" y="637.60" font-size="9.8" font-weight="bold" fill="#111" text-anchor="middle">GGCGCAACGGGACGGGAAGA</text>
<text transform="scale(1.09,1)" x="262.29 269.72" y="617.90" font-size="9.8" font-weight="bold" fill="#8c8c8c" text-anchor="middle">GG</text>
<text transform="scale(1.09,1)" x="262.29 269.72" y="632.10" font-size="9.8" font-weight="bold" fill="#8c8c8c" text-anchor="middle">CC</text>
<text x="298.7" y="617.9" font-size="10.8" fill="#333">-<tspan dx="1.5">5’</tspan></text>
<text x="298.7" y="632.1" font-size="10.8" fill="#333">-<tspan dx="1.5">3’</tspan></text>
<line x1="285.90" y1="619.8" x2="285.90" y2="623.8" stroke="#a6a6a6" stroke-width="1.2"/>
<line x1="293.99" y1="619.8" x2="293.99" y2="623.8" stroke="#a6a6a6" stroke-width="1.2"/>
<text transform="translate(15.6,702.9) scale(1,1.09)" font-size="13.5" font-weight="bold" fill="#111">WT</text>
<circle cx="108.2" cy="654.6" r="4.9" fill="none" stroke="#2c3e66" stroke-width="1.3"/>
<path d="M98.6,672.0 C103.5,672.0 105.5,669.9 105.5,666.4 V659.0 M110.9,659.0 V666.4 C110.9,669.9 113.5,672.0 119.2,672.0" fill="none" stroke="#2c3e66" stroke-width="1.3"/>
<line x1="105.5" y1="661.0" x2="110.9" y2="661.0" stroke="#2c3e66" stroke-width="0.9"/>
<line x1="105.5" y1="663.0" x2="110.9" y2="663.0" stroke="#2c3e66" stroke-width="0.9"/>
<line x1="105.5" y1="665.0" x2="110.9" y2="665.0" stroke="#2c3e66" stroke-width="0.9"/>
<line x1="105.5" y1="667.0" x2="110.9" y2="667.0" stroke="#2c3e66" stroke-width="0.9"/>
<text x="90.2" y="674.1999999999999" font-size="10.8" fill="#333">5’</text>
<text transform="scale(1.09,1)" x="112.39 119.81 127.23 134.65 142.07 149.50 156.92 164.34 171.76 179.18 186.61 194.03 201.45 208.87 216.29 223.72 231.14 238.56 245.98 253.40" y="674.40" font-size="9.8" font-weight="bold" fill="#111" text-anchor="middle">GGCGCAACGGGACGGGAAGA</text>
<text x="283" y="673.6999999999999" font-size="10.8" fill="#333">-<tspan dx="2.3">3’</tspan></text>
<line x1="122.80" y1="675.6" x2="122.80" y2="680.6" stroke="#a3a3a3" stroke-width="1.5"/>
<line x1="130.89" y1="675.6" x2="130.89" y2="680.6" stroke="#a3a3a3" stroke-width="1.5"/>
<line x1="138.98" y1="675.6" x2="138.98" y2="680.6" stroke="#a3a3a3" stroke-width="1.5"/>
<line x1="147.07" y1="675.6" x2="147.07" y2="680.6" stroke="#a3a3a3" stroke-width="1.5"/>
<line x1="155.16" y1="675.6" x2="155.16" y2="680.6" stroke="#a3a3a3" stroke-width="1.5"/>
<line x1="163.25" y1="675.6" x2="163.25" y2="680.6" stroke="#a3a3a3" stroke-width="1.5"/>
<line x1="171.34" y1="675.6" x2="171.34" y2="680.6" stroke="#a3a3a3" stroke-width="1.5"/>
<line x1="179.43" y1="675.6" x2="179.43" y2="680.6" stroke="#a3a3a3" stroke-width="1.5"/>
<line x1="187.52" y1="675.6" x2="187.52" y2="680.6" stroke="#a3a3a3" stroke-width="1.5"/>
<line x1="195.61" y1="675.6" x2="195.61" y2="680.6" stroke="#a3a3a3" stroke-width="1.5"/>
<line x1="203.70" y1="675.6" x2="203.70" y2="680.6" stroke="#a3a3a3" stroke-width="1.5"/>
<line x1="211.79" y1="675.6" x2="211.79" y2="680.6" stroke="#a3a3a3" stroke-width="1.5"/>
<line x1="219.88" y1="675.6" x2="219.88" y2="680.6" stroke="#a3a3a3" stroke-width="1.5"/>
<line x1="227.97" y1="675.6" x2="227.97" y2="680.6" stroke="#a3a3a3" stroke-width="1.5"/>
<line x1="236.06" y1="675.6" x2="236.06" y2="680.6" stroke="#a3a3a3" stroke-width="1.5"/>
<line x1="244.15" y1="675.6" x2="244.15" y2="680.6" stroke="#a3a3a3" stroke-width="1.5"/>
<line x1="252.24" y1="675.6" x2="252.24" y2="680.6" stroke="#a3a3a3" stroke-width="1.5"/>
<line x1="260.33" y1="675.6" x2="260.33" y2="680.6" stroke="#a3a3a3" stroke-width="1.5"/>
<line x1="268.42" y1="675.6" x2="268.42" y2="680.6" stroke="#a3a3a3" stroke-width="1.5"/>
<line x1="276.51" y1="675.6" x2="276.51" y2="680.6" stroke="#a3a3a3" stroke-width="1.5"/>
<text transform="scale(1.09,1)" x="112.39 119.81 127.23 134.65 142.07 149.50 156.92 164.34 171.76 179.18 186.61 194.03 201.45 208.87 216.29 223.72 231.14 238.56 245.98 253.40" y="687.80" font-size="9.8" font-weight="bold" fill="#111" text-anchor="middle">CCGCGTTGCCCTGCC<tspan fill="#e0206a">T</tspan>TTCT</text>
<text x="74.6" y="696.3" font-size="10.9" fill="#333">3’<tspan dy="-1.4">-</tspan></text>
<text x="74.6" y="709.9" font-size="10.9" fill="#333">5’<tspan dy="-1.2">-</tspan></text>
<text transform="scale(1.09,1)" x="82.11 89.53 96.95 104.38" y="694.40" font-size="9.8" font-weight="bold" fill="#8c8c8c" text-anchor="middle">CAAT</text>
<text transform="scale(1.09,1)" x="82.75 90.17 97.60 105.02" y="708.80" font-size="9.8" font-weight="bold" fill="#2e3fa0" text-anchor="middle">GTTA</text>
<line x1="91.00" y1="696.0" x2="91.00" y2="700.0" stroke="#a6a6a6" stroke-width="1.2"/>
<line x1="97.80" y1="696.0" x2="97.80" y2="700.0" stroke="#a6a6a6" stroke-width="1.2"/>
<line x1="105.60" y1="696.0" x2="105.60" y2="700.0" stroke="#a6a6a6" stroke-width="1.2"/>
<line x1="113.80" y1="696.0" x2="113.80" y2="700.0" stroke="#a6a6a6" stroke-width="1.2"/>
<text x="96.6" y="718.6999999999999" font-size="8.5" font-weight="bold" fill="#2e3fa0">PAM</text>
<text transform="scale(1.09,1)" x="112.39 119.81 127.23 134.65 142.07 149.50 156.92 164.34 171.76 179.18 186.61 194.03 201.45 208.87 216.29 223.72 231.14 238.56 245.98 253.40" y="714.00" font-size="9.8" font-weight="bold" fill="#111" text-anchor="middle">GGCGCAACGGGACGG<tspan fill="#e0206a">A</tspan>AAGA</text>
<text transform="scale(1.09,1)" x="262.29 269.72" y="694.30" font-size="9.8" font-weight="bold" fill="#8c8c8c" text-anchor="middle">GG</text>
<text transform="scale(1.09,1)" x="262.29 269.72" y="708.50" font-size="9.8" font-weight="bold" fill="#8c8c8c" text-anchor="middle">CC</text>
<text x="298.7" y="694.3" font-size="10.8" fill="#333">-<tspan dx="1.5">5’</tspan></text>
<text x="298.7" y="708.5" font-size="10.8" fill="#333">-<tspan dx="1.5">3’</tspan></text>
<line x1="285.90" y1="696.1999999999999" x2="285.90" y2="700.1999999999999" stroke="#a6a6a6" stroke-width="1.2"/>
<line x1="293.99" y1="696.1999999999999" x2="293.99" y2="700.1999999999999" stroke="#a6a6a6" stroke-width="1.2"/>
<line x1="397.4" y1="571.3" x2="397.4" y2="688.1" stroke="#222" stroke-width="1.3"/>
<line x1="393.09999999999997" y1="683.6" x2="511.1" y2="683.6" stroke="#222" stroke-width="1.3"/>
<line x1="393.09999999999997" y1="571.3" x2="397.4" y2="571.3" stroke="#222" stroke-width="1.1"/>
<text x="390.60" y="574.40" font-size="8.6" fill="#222" text-anchor="end" >12000</text>
<line x1="393.09999999999997" y1="608.7" x2="397.4" y2="608.7" stroke="#222" stroke-width="1.1"/>
<text x="390.60" y="611.80" font-size="8.6" fill="#222" text-anchor="end" >8000</text>
<line x1="393.09999999999997" y1="646.1" x2="397.4" y2="646.1" stroke="#222" stroke-width="1.1"/>
<text x="390.60" y="649.20" font-size="8.6" fill="#222" text-anchor="end" >4000</text>
<line x1="397.40" y1="683.6" x2="397.40" y2="688.1" stroke="#222" stroke-width="1.1"/>
<text x="397.40" y="701.40" font-size="9.2" fill="#222" text-anchor="middle" >0</text>
<line x1="435.30" y1="683.6" x2="435.30" y2="688.1" stroke="#222" stroke-width="1.1"/>
<text x="435.30" y="701.40" font-size="9.2" fill="#222" text-anchor="middle" >20</text>
<line x1="473.20" y1="683.6" x2="473.20" y2="688.1" stroke="#222" stroke-width="1.1"/>
<text x="473.20" y="701.40" font-size="9.2" fill="#222" text-anchor="middle" >40</text>
<line x1="511.10" y1="683.6" x2="511.10" y2="688.1" stroke="#222" stroke-width="1.1"/>
<text x="511.10" y="701.40" font-size="9.2" fill="#222" text-anchor="middle" >60</text>
<polyline points="399.29,663.90 401.16,663.83 403.02,663.73 404.89,663.59 406.75,663.40 408.61,663.14 410.48,662.80 412.34,662.36 414.20,661.82 416.07,661.18 417.93,660.44 419.79,659.62 421.66,658.73 423.52,657.77 425.38,656.78 427.25,655.75 429.11,654.70 430.97,653.64 432.84,652.56 434.70,651.48 436.56,650.39 438.43,649.29 440.29,648.19 442.15,647.10 444.02,646.00 445.88,644.90 447.74,643.79 449.61,642.69 451.47,641.59 453.33,640.49 455.20,639.38 457.06,638.28 458.92,637.18 460.79,636.08 462.65,634.97 464.51,633.87 466.38,632.77 468.24,631.67 470.10,630.56 471.97,629.46 473.83,628.36 475.70,627.25 477.56,626.15 479.42,625.05 481.29,623.95 483.15,622.84 485.01,621.74 486.88,620.64 488.74,619.53 490.60,618.43 492.47,617.33 494.33,616.23 496.19,615.12 498.06,614.02 499.92,612.92 501.78,611.81 503.65,610.71 505.51,609.61 507.37,608.51 509.24,607.40 511.10,606.30" fill="none" stroke="#5ea2ef" stroke-width="1.6" stroke-linejoin="round"/>
<polyline points="399.29,663.90 401.16,663.84 403.02,663.75 404.89,663.62 406.75,663.45 408.61,663.22 410.48,662.92 412.34,662.53 414.20,662.05 416.07,661.48 417.93,660.82 419.79,660.08 421.66,659.28 423.52,658.43 425.38,657.55 427.25,656.63 429.11,655.69 430.97,654.74 432.84,653.78 434.70,652.81 436.56,651.84 438.43,650.86 440.29,649.89 442.15,648.90 444.02,647.92 445.88,646.94 447.74,645.96 449.61,644.97 451.47,643.99 453.33,643.01 455.20,642.02 457.06,641.04 458.92,640.06 460.79,639.07 462.65,638.09 464.51,637.10 466.38,636.12 468.24,635.13 470.10,634.15 471.97,633.17 473.83,632.18 475.70,631.20 477.56,630.21 479.42,629.23 481.29,628.25 483.15,627.26 485.01,626.28 486.88,625.29 488.74,624.31 490.60,623.33 492.47,622.34 494.33,621.36 496.19,620.37 498.06,619.39 499.92,618.40 501.78,617.42 503.65,616.44 505.51,615.45 507.37,614.47 509.24,613.48 511.10,612.50" fill="none" stroke="#5ea2ef" stroke-width="1.6" stroke-linejoin="round"/>
<polyline points="399.29,663.90 401.16,663.84 403.02,663.75 404.89,663.63 406.75,663.46 408.61,663.24 410.48,662.94 412.34,662.56 414.20,662.09 416.07,661.54 417.93,660.89 419.79,660.18 421.66,659.40 423.52,658.57 425.38,657.71 427.25,656.81 429.11,655.90 430.97,654.97 432.84,654.04 434.70,653.09 436.56,652.15 438.43,651.19 440.29,650.24 442.15,649.28 444.02,648.33 445.88,647.37 447.74,646.41 449.61,645.45 451.47,644.49 453.33,643.54 455.20,642.58 457.06,641.62 458.92,640.66 460.79,639.70 462.65,638.74 464.51,637.78 466.38,636.82 468.24,635.86 470.10,634.90 471.97,633.94 473.83,632.98 475.70,632.03 477.56,631.07 479.42,630.11 481.29,629.15 483.15,628.19 485.01,627.23 486.88,626.27 488.74,625.31 490.60,624.35 492.47,623.39 494.33,622.43 496.19,621.47 498.06,620.51 499.92,619.56 501.78,618.60 503.65,617.64 505.51,616.68 507.37,615.72 509.24,614.76 511.10,613.80" fill="none" stroke="#5ea2ef" stroke-width="1.6" stroke-linejoin="round"/>
<polyline points="399.29,663.90 401.16,663.84 403.02,663.76 404.89,663.64 406.75,663.47 408.61,663.25 410.48,662.96 412.34,662.59 414.20,662.13 416.07,661.59 417.93,660.96 419.79,660.26 421.66,659.50 423.52,658.69 425.38,657.84 427.25,656.97 429.11,656.08 430.97,655.17 432.84,654.25 434.70,653.33 436.56,652.40 438.43,651.47 440.29,650.54 442.15,649.61 444.02,648.67 445.88,647.73 447.74,646.80 449.61,645.86 451.47,644.92 453.33,643.98 455.20,643.04 457.06,642.11 458.92,641.17 460.79,640.23 462.65,639.29 464.51,638.35 466.38,637.42 468.24,636.48 470.10,635.54 471.97,634.60 473.83,633.66 475.70,632.73 477.56,631.79 479.42,630.85 481.29,629.91 483.15,628.97 485.01,628.03 486.88,627.10 488.74,626.16 490.60,625.22 492.47,624.28 494.33,623.34 496.19,622.41 498.06,621.47 499.92,620.53 501.78,619.59 503.65,618.65 505.51,617.71 507.37,616.78 509.24,615.84 511.10,614.90" fill="none" stroke="#5ea2ef" stroke-width="1.6" stroke-linejoin="round"/>
<polyline points="399.29,663.90 401.16,663.84 403.02,663.76 404.89,663.64 406.75,663.48 408.61,663.27 410.48,662.98 412.34,662.62 414.20,662.17 416.07,661.64 417.93,661.03 419.79,660.34 421.66,659.60 423.52,658.81 425.38,657.98 427.25,657.13 429.11,656.25 430.97,655.37 432.84,654.47 434.70,653.57 436.56,652.66 438.43,651.75 440.29,650.84 442.15,649.93 444.02,649.01 445.88,648.10 447.74,647.18 449.61,646.26 451.47,645.35 453.33,644.43 455.20,643.51 457.06,642.60 458.92,641.68 460.79,640.76 462.65,639.84 464.51,638.93 466.38,638.01 468.24,637.09 470.10,636.18 471.97,635.26 473.83,634.34 475.70,633.43 477.56,632.51 479.42,631.59 481.29,630.67 483.15,629.76 485.01,628.84 486.88,627.92 488.74,627.01 490.60,626.09 492.47,625.17 494.33,624.25 496.19,623.34 498.06,622.42 499.92,621.50 501.78,620.59 503.65,619.67 505.51,618.75 507.37,617.83 509.24,616.92 511.10,616.00" fill="none" stroke="#5ea2ef" stroke-width="1.6" stroke-linejoin="round"/>
<polyline points="399.29,663.90 401.16,663.86 403.02,663.79 404.89,663.71 406.75,663.59 408.61,663.43 410.48,663.22 412.34,662.95 414.20,662.61 416.07,662.22 417.93,661.76 419.79,661.25 421.66,660.69 423.52,660.10 425.38,659.49 427.25,658.85 429.11,658.20 430.97,657.54 432.84,656.87 434.70,656.20 436.56,655.52 438.43,654.85 440.29,654.17 442.15,653.49 444.02,652.80 445.88,652.12 447.74,651.44 449.61,650.76 451.47,650.07 453.33,649.39 455.20,648.71 457.06,648.02 458.92,647.34 460.79,646.66 462.65,645.97 464.51,645.29 466.38,644.60 468.24,643.92 470.10,643.24 471.97,642.55 473.83,641.87 475.70,641.19 477.56,640.50 479.42,639.82 481.29,639.14 483.15,638.45 485.01,637.77 486.88,637.09 488.74,636.40 490.60,635.72 492.47,635.04 494.33,634.35 496.19,633.67 498.06,632.98 499.92,632.30 501.78,631.62 503.65,630.93 505.51,630.25 507.37,629.57 509.24,628.88 511.10,628.20" fill="none" stroke="#5ea2ef" stroke-width="1.6" stroke-linejoin="round"/>
<polyline points="399.29,663.90 401.16,663.87 403.02,663.82 404.89,663.75 406.75,663.66 408.61,663.53 410.48,663.36 412.34,663.15 414.20,662.89 416.07,662.57 417.93,662.21 419.79,661.81 421.66,661.38 423.52,660.91 425.38,660.43 427.25,659.93 429.11,659.41 430.97,658.89 432.84,658.37 434.70,657.84 436.56,657.31 438.43,656.77 440.29,656.24 442.15,655.70 444.02,655.17 445.88,654.63 447.74,654.09 449.61,653.55 451.47,653.02 453.33,652.48 455.20,651.94 457.06,651.40 458.92,650.86 460.79,650.33 462.65,649.79 464.51,649.25 466.38,648.71 468.24,648.17 470.10,647.64 471.97,647.10 473.83,646.56 475.70,646.02 477.56,645.48 479.42,644.95 481.29,644.41 483.15,643.87 485.01,643.33 486.88,642.79 488.74,642.26 490.60,641.72 492.47,641.18 494.33,640.64 496.19,640.10 498.06,639.57 499.92,639.03 501.78,638.49 503.65,637.95 505.51,637.41 507.37,636.88 509.24,636.34 511.10,635.80" fill="none" stroke="#5ea2ef" stroke-width="1.6" stroke-linejoin="round"/>
<polyline points="399.29,663.90 401.16,663.88 403.02,663.86 404.89,663.82 406.75,663.77 408.61,663.71 410.48,663.62 412.34,663.51 414.20,663.38 416.07,663.22 417.93,663.03 419.79,662.82 421.66,662.60 423.52,662.36 425.38,662.11 427.25,661.85 429.11,661.59 430.97,661.32 432.84,661.05 434.70,660.77 436.56,660.50 438.43,660.22 440.29,659.95 442.15,659.67 444.02,659.39 445.88,659.12 447.74,658.84 449.61,658.56 451.47,658.28 453.33,658.01 455.20,657.73 457.06,657.45 458.92,657.17 460.79,656.90 462.65,656.62 464.51,656.34 466.38,656.06 468.24,655.79 470.10,655.51 471.97,655.23 473.83,654.95 475.70,654.67 477.56,654.40 479.42,654.12 481.29,653.84 483.15,653.56 485.01,653.29 486.88,653.01 488.74,652.73 490.60,652.45 492.47,652.18 494.33,651.90 496.19,651.62 498.06,651.34 499.92,651.07 501.78,650.79 503.65,650.51 505.51,650.23 507.37,649.96 509.24,649.68 511.10,649.40" fill="none" stroke="#5ea2ef" stroke-width="1.6" stroke-linejoin="round"/>
<polyline points="399.29,663.90 401.16,663.84 403.02,663.77 404.89,663.66 406.75,663.52 408.61,663.34 410.48,663.09 412.34,662.79 414.20,662.41 416.07,661.95 417.93,661.42 419.79,660.83 421.66,660.17 423.52,659.47 425.38,658.73 427.25,657.96 429.11,657.16 430.97,656.35 432.84,655.53 434.70,654.70 436.56,653.86 438.43,653.01 440.29,652.17 442.15,651.32 444.02,650.47 445.88,649.61 447.74,648.76 449.61,647.91 451.47,647.05 453.33,646.20 455.20,645.34 457.06,644.49 458.92,643.64 460.79,642.78 462.65,641.93 464.51,641.07 466.38,640.22 468.24,639.36 470.10,638.51 471.97,637.65 473.83,636.80 475.70,635.94 477.56,635.09 479.42,634.23 481.29,633.38 483.15,632.52 485.01,631.67 486.88,630.81 488.74,629.96 490.60,629.10 492.47,628.25 494.33,627.39 496.19,626.54 498.06,625.68 499.92,624.83 501.78,623.97 503.65,623.12 505.51,622.26 507.37,621.41 509.24,620.55 511.10,619.70" fill="none" stroke="#ee42c6" stroke-width="1.6" stroke-linejoin="round"/>
<polyline points="399.29,663.90 401.16,663.86 403.02,663.81 404.89,663.74 406.75,663.64 408.61,663.51 410.48,663.34 412.34,663.12 414.20,662.86 416.07,662.54 417.93,662.17 419.79,661.75 421.66,661.30 423.52,660.80 425.38,660.29 427.25,659.75 429.11,659.19 430.97,658.62 432.84,658.05 434.70,657.47 436.56,656.88 438.43,656.29 440.29,655.70 442.15,655.10 444.02,654.51 445.88,653.91 447.74,653.32 449.61,652.72 451.47,652.12 453.33,651.52 455.20,650.93 457.06,650.33 458.92,649.73 460.79,649.14 462.65,648.54 464.51,647.94 466.38,647.34 468.24,646.75 470.10,646.15 471.97,645.55 473.83,644.95 475.70,644.35 477.56,643.76 479.42,643.16 481.29,642.56 483.15,641.96 485.01,641.37 486.88,640.77 488.74,640.17 490.60,639.57 492.47,638.98 494.33,638.38 496.19,637.78 498.06,637.18 499.92,636.59 501.78,635.99 503.65,635.39 505.51,634.79 507.37,634.20 509.24,633.60 511.10,633.00" fill="none" stroke="#ee42c6" stroke-width="1.6" stroke-linejoin="round"/>
<polyline points="399.29,663.90 401.16,663.89 403.02,663.88 404.89,663.87 406.75,663.84 408.61,663.82 410.48,663.78 412.34,663.74 414.20,663.68 416.07,663.61 417.93,663.54 419.79,663.45 421.66,663.35 423.52,663.25 425.38,663.14 427.25,663.03 429.11,662.91 430.97,662.79 432.84,662.67 434.70,662.55 436.56,662.42 438.43,662.30 440.29,662.17 442.15,662.05 444.02,661.92 445.88,661.80 447.74,661.67 449.61,661.55 451.47,661.42 453.33,661.30 455.20,661.17 457.06,661.05 458.92,660.92 460.79,660.79 462.65,660.67 464.51,660.54 466.38,660.42 468.24,660.29 470.10,660.17 471.97,660.04 473.83,659.91 475.70,659.79 477.56,659.66 479.42,659.54 481.29,659.41 483.15,659.29 485.01,659.16 486.88,659.03 488.74,658.91 490.60,658.78 492.47,658.66 494.33,658.53 496.19,658.41 498.06,658.28 499.92,658.15 501.78,658.03 503.65,657.90 505.51,657.78 507.37,657.65 509.24,657.53 511.10,657.40" fill="none" stroke="#ee42c6" stroke-width="1.6" stroke-linejoin="round"/>
<line x1="399.29999999999995" y1="664.2" x2="511.1" y2="662" stroke="#111" stroke-width="1.7"/>
<text transform="translate(360.7,626.5) rotate(-90)" font-size="10.2" font-weight="bold" text-anchor="middle" fill="#1a1a1a">F.I.(a.u.)</text>
<text x="451.50" y="717.10" font-size="10.1" font-weight="bold" fill="#1a1a1a" text-anchor="middle" >Time (min)</text>
<text x="450.20" y="575.70" font-size="9.3" font-weight="bold" fill="#cf2e3a" text-anchor="middle" >GTTA</text>
<text x="405.40" y="587.00" font-size="9.1" font-weight="bold" fill="#1a1a1a" text-anchor="start" >isothermal reaction</text>
<line x1="404.9" y1="595.7" x2="416.2" y2="595.7" stroke="#000" stroke-width="2"/>
<text x="419.90" y="598.30" font-size="7.8" font-weight="bold" fill="#1a1a1a" text-anchor="start" >NTC</text>
<line x1="404.9" y1="610.2" x2="416.2" y2="610.2" stroke="#5ea2ef" stroke-width="2"/>
<text x="419.90" y="612.80" font-size="7.8" font-weight="bold" fill="#1a1a1a" text-anchor="start" >A2063G</text>
<line x1="404.9" y1="624.6" x2="416.2" y2="624.6" stroke="#ee42c6" stroke-width="2"/>
<text x="419.90" y="627.20" font-size="7.8" font-weight="bold" fill="#1a1a1a" text-anchor="start" >WT</text>
<line x1="554.4" y1="570.5" x2="554.4" y2="688.0" stroke="#222" stroke-width="1.3"/>
<line x1="550.1" y1="683.5" x2="667.4" y2="683.5" stroke="#222" stroke-width="1.3"/>
<line x1="550.1" y1="570.5" x2="554.4" y2="570.5" stroke="#222" stroke-width="1.1"/>
<line x1="550.1" y1="608.1" x2="554.4" y2="608.1" stroke="#222" stroke-width="1.1"/>
<line x1="550.1" y1="645.6" x2="554.4" y2="645.6" stroke="#222" stroke-width="1.1"/>
<line x1="554.40" y1="683.5" x2="554.40" y2="688.0" stroke="#222" stroke-width="1.1"/>
<text x="554.40" y="701.40" font-size="9.2" fill="#222" text-anchor="middle" >0</text>
<line x1="592.07" y1="683.5" x2="592.07" y2="688.0" stroke="#222" stroke-width="1.1"/>
<text x="592.07" y="701.40" font-size="9.2" fill="#222" text-anchor="middle" >20</text>
<line x1="629.73" y1="683.5" x2="629.73" y2="688.0" stroke="#222" stroke-width="1.1"/>
<text x="629.73" y="701.40" font-size="9.2" fill="#222" text-anchor="middle" >40</text>
<line x1="667.40" y1="683.5" x2="667.40" y2="688.0" stroke="#222" stroke-width="1.1"/>
<text x="667.40" y="701.40" font-size="9.2" fill="#222" text-anchor="middle" >60</text>
<polyline points="556.28,662.40 558.14,662.40 559.99,662.39 561.84,662.37 563.69,662.32 565.54,662.19 567.39,661.88 569.25,661.17 571.10,659.83 572.95,657.83 574.80,655.41 576.65,652.82 578.51,650.22 580.36,647.68 582.21,645.21 584.06,642.84 585.91,640.54 587.77,638.33 589.62,636.21 591.47,634.16 593.32,632.19 595.17,630.29 597.03,628.46 598.88,626.70 600.73,625.01 602.58,623.37 604.43,621.80 606.29,620.29 608.14,618.83 609.99,617.43 611.84,616.08 613.69,614.78 615.55,613.53 617.40,612.32 619.25,611.16 621.10,610.04 622.95,608.96 624.81,607.93 626.66,606.93 628.51,605.97 630.36,605.04 632.21,604.15 634.06,603.29 635.92,602.47 637.77,601.67 639.62,600.90 641.47,600.17 643.32,599.46 645.18,598.77 647.03,598.11 648.88,597.48 650.73,596.87 652.58,596.28 654.44,595.72 656.29,595.17 658.14,594.65 659.99,594.14 661.84,593.65 663.70,593.19 665.55,592.73 667.40,592.30" fill="none" stroke="#5ea2ef" stroke-width="1.6" stroke-linejoin="round"/>
<polyline points="556.28,662.40 558.14,662.40 559.99,662.39 561.84,662.37 563.69,662.33 565.54,662.21 567.39,661.91 569.25,661.24 571.10,659.97 572.95,658.09 574.80,655.80 576.65,653.36 578.51,650.90 580.36,648.50 582.21,646.17 584.06,643.92 585.91,641.76 587.77,639.67 589.62,637.67 591.47,635.73 593.32,633.87 595.17,632.08 597.03,630.35 598.88,628.69 600.73,627.09 602.58,625.55 604.43,624.06 606.29,622.63 608.14,621.26 609.99,619.93 611.84,618.66 613.69,617.43 615.55,616.24 617.40,615.11 619.25,614.01 621.10,612.95 622.95,611.94 624.81,610.96 626.66,610.01 628.51,609.11 630.36,608.23 632.21,607.39 634.06,606.58 635.92,605.80 637.77,605.05 639.62,604.33 641.47,603.63 643.32,602.96 645.18,602.31 647.03,601.69 648.88,601.09 650.73,600.52 652.58,599.96 654.44,599.43 656.29,598.91 658.14,598.42 659.99,597.94 661.84,597.48 663.70,597.04 665.55,596.61 667.40,596.20" fill="none" stroke="#5ea2ef" stroke-width="1.6" stroke-linejoin="round"/>
<polyline points="556.28,662.40 558.14,662.40 559.99,662.39 561.84,662.38 563.69,662.35 565.54,662.27 567.39,662.07 569.25,661.60 571.10,660.65 572.95,659.13 574.80,657.18 576.65,655.03 578.51,652.84 580.36,650.68 582.21,648.57 584.06,646.54 585.91,644.58 587.77,642.69 589.62,640.86 591.47,639.10 593.32,637.40 595.17,635.77 597.03,634.19 598.88,632.67 600.73,631.20 602.58,629.78 604.43,628.42 606.29,627.10 608.14,625.84 609.99,624.61 611.84,623.43 613.69,622.30 615.55,621.20 617.40,620.14 619.25,619.12 621.10,618.14 622.95,617.19 624.81,616.28 626.66,615.40 628.51,614.55 630.36,613.73 632.21,612.94 634.06,612.18 635.92,611.44 637.77,610.73 639.62,610.05 641.47,609.39 643.32,608.76 645.18,608.14 647.03,607.55 648.88,606.98 650.73,606.44 652.58,605.91 654.44,605.40 656.29,604.90 658.14,604.43 659.99,603.97 661.84,603.53 663.70,603.11 665.55,602.70 667.40,602.30" fill="none" stroke="#5ea2ef" stroke-width="1.6" stroke-linejoin="round"/>
<polyline points="556.28,662.40 558.14,662.40 559.99,662.39 561.84,662.38 563.69,662.35 565.54,662.28 567.39,662.08 569.25,661.62 571.10,660.70 572.95,659.23 574.80,657.34 576.65,655.25 578.51,653.12 580.36,651.03 582.21,648.99 584.06,647.02 585.91,645.11 587.77,643.28 589.62,641.51 591.47,639.80 593.32,638.15 595.17,636.56 597.03,635.03 598.88,633.56 600.73,632.13 602.58,630.76 604.43,629.44 606.29,628.16 608.14,626.93 609.99,625.74 611.84,624.60 613.69,623.50 615.55,622.43 617.40,621.41 619.25,620.42 621.10,619.47 622.95,618.55 624.81,617.66 626.66,616.80 628.51,615.98 630.36,615.19 632.21,614.42 634.06,613.68 635.92,612.97 637.77,612.28 639.62,611.62 641.47,610.98 643.32,610.36 645.18,609.77 647.03,609.20 648.88,608.64 650.73,608.11 652.58,607.60 654.44,607.10 656.29,606.63 658.14,606.17 659.99,605.72 661.84,605.29 663.70,604.88 665.55,604.48 667.40,604.10" fill="none" stroke="#5ea2ef" stroke-width="1.6" stroke-linejoin="round"/>
<polyline points="556.28,662.40 558.14,662.40 559.99,662.40 561.84,662.39 563.69,662.37 565.54,662.32 567.39,662.18 569.25,661.86 571.10,661.17 572.95,659.99 574.80,658.38 576.65,656.52 578.51,654.59 580.36,652.67 582.21,650.79 584.06,648.97 585.91,647.20 587.77,645.50 589.62,643.85 591.47,642.25 593.32,640.71 595.17,639.22 597.03,637.77 598.88,636.38 600.73,635.03 602.58,633.73 604.43,632.47 606.29,631.26 608.14,630.08 609.99,628.94 611.84,627.84 613.69,626.78 615.55,625.75 617.40,624.76 619.25,623.80 621.10,622.87 622.95,621.98 624.81,621.11 626.66,620.27 628.51,619.46 630.36,618.68 632.21,617.92 634.06,617.19 635.92,616.48 637.77,615.80 639.62,615.14 641.47,614.50 643.32,613.88 645.18,613.29 647.03,612.71 648.88,612.15 650.73,611.61 652.58,611.09 654.44,610.59 656.29,610.10 658.14,609.63 659.99,609.17 661.84,608.73 663.70,608.31 665.55,607.90 667.40,607.50" fill="none" stroke="#5ea2ef" stroke-width="1.6" stroke-linejoin="round"/>
<polyline points="556.28,662.40 558.14,662.40 559.99,662.40 561.84,662.39 563.69,662.38 565.54,662.36 567.39,662.29 569.25,662.13 571.10,661.75 572.95,661.04 574.80,659.98 576.65,658.67 578.51,657.26 580.36,655.82 582.21,654.41 584.06,653.02 585.91,651.67 587.77,650.36 589.62,649.08 591.47,647.84 593.32,646.63 595.17,645.45 597.03,644.31 598.88,643.20 600.73,642.12 602.58,641.07 604.43,640.05 606.29,639.05 608.14,638.09 609.99,637.15 611.84,636.24 613.69,635.35 615.55,634.49 617.40,633.65 619.25,632.83 621.10,632.04 622.95,631.27 624.81,630.52 626.66,629.79 628.51,629.08 630.36,628.39 632.21,627.72 634.06,627.07 635.92,626.44 637.77,625.82 639.62,625.23 641.47,624.64 643.32,624.08 645.18,623.53 647.03,622.99 648.88,622.47 650.73,621.97 652.58,621.47 654.44,621.00 656.29,620.53 658.14,620.08 659.99,619.64 661.84,619.21 663.70,618.80 665.55,618.39 667.40,618.00" fill="none" stroke="#5ea2ef" stroke-width="1.6" stroke-linejoin="round"/>
<polyline points="556.28,662.40 558.14,662.40 559.99,662.40 561.84,662.40 563.69,662.39 565.54,662.38 567.39,662.35 569.25,662.28 571.10,662.11 572.95,661.75 574.80,661.15 576.65,660.36 578.51,659.46 580.36,658.53 582.21,657.60 584.06,656.68 585.91,655.77 587.77,654.88 589.62,654.01 591.47,653.16 593.32,652.33 595.17,651.52 597.03,650.72 598.88,649.94 600.73,649.18 602.58,648.44 604.43,647.71 606.29,646.99 608.14,646.30 609.99,645.61 611.84,644.95 613.69,644.29 615.55,643.65 617.40,643.03 619.25,642.41 621.10,641.81 622.95,641.23 624.81,640.65 626.66,640.09 628.51,639.54 630.36,639.01 632.21,638.48 634.06,637.97 635.92,637.46 637.77,636.97 639.62,636.49 641.47,636.02 643.32,635.56 645.18,635.11 647.03,634.67 648.88,634.24 650.73,633.81 652.58,633.40 654.44,633.00 656.29,632.60 658.14,632.21 659.99,631.83 661.84,631.46 663.70,631.10 665.55,630.75 667.40,630.40" fill="none" stroke="#5ea2ef" stroke-width="1.6" stroke-linejoin="round"/>
<polyline points="556.28,662.40 558.14,662.40 559.99,662.40 561.84,662.40 563.69,662.40 565.54,662.39 567.39,662.38 569.25,662.36 571.10,662.29 572.95,662.13 574.80,661.85 576.65,661.43 578.51,660.91 580.36,660.36 582.21,659.79 584.06,659.22 585.91,658.66 587.77,658.11 589.62,657.57 591.47,657.04 593.32,656.51 595.17,656.00 597.03,655.49 598.88,655.00 600.73,654.51 602.58,654.03 604.43,653.56 606.29,653.10 608.14,652.65 609.99,652.20 611.84,651.77 613.69,651.34 615.55,650.91 617.40,650.50 619.25,650.09 621.10,649.69 622.95,649.30 624.81,648.91 626.66,648.53 628.51,648.16 630.36,647.80 632.21,647.44 634.06,647.08 635.92,646.74 637.77,646.40 639.62,646.06 641.47,645.73 643.32,645.41 645.18,645.09 647.03,644.78 648.88,644.48 650.73,644.18 652.58,643.88 654.44,643.59 656.29,643.31 658.14,643.03 659.99,642.75 661.84,642.48 663.70,642.22 665.55,641.96 667.40,641.70" fill="none" stroke="#5ea2ef" stroke-width="1.6" stroke-linejoin="round"/>
<line x1="556.3" y1="662.8" x2="667.4" y2="661.2" stroke="#ee42c6" stroke-width="1.7"/>
<line x1="556.3" y1="663.2" x2="667.4" y2="662" stroke="#111" stroke-width="1.7"/>
<text x="609.50" y="717.10" font-size="10.1" font-weight="bold" fill="#1a1a1a" text-anchor="middle" >Time (min)</text>
<text x="610.10" y="575.70" font-size="9.3" font-weight="bold" fill="#cf2e3a" text-anchor="middle" >GTTA</text>
<text x="560.70" y="587.00" font-size="9.1" font-weight="bold" fill="#1a1a1a" text-anchor="start" >poikilothermal reaction</text>
<line x1="560.2" y1="595.7" x2="571.5" y2="595.7" stroke="#000" stroke-width="2"/>
<text x="575.20" y="598.30" font-size="7.8" font-weight="bold" fill="#1a1a1a" text-anchor="start" >NTC</text>
<line x1="560.2" y1="610.2" x2="571.5" y2="610.2" stroke="#5ea2ef" stroke-width="2"/>
<text x="575.20" y="612.80" font-size="7.8" font-weight="bold" fill="#1a1a1a" text-anchor="start" >A2063G</text>
<line x1="560.2" y1="624.6" x2="571.5" y2="624.6" stroke="#ee42c6" stroke-width="2"/>
<text x="575.20" y="627.20" font-size="7.8" font-weight="bold" fill="#1a1a1a" text-anchor="start" >WT</text>
</svg></body></html>
